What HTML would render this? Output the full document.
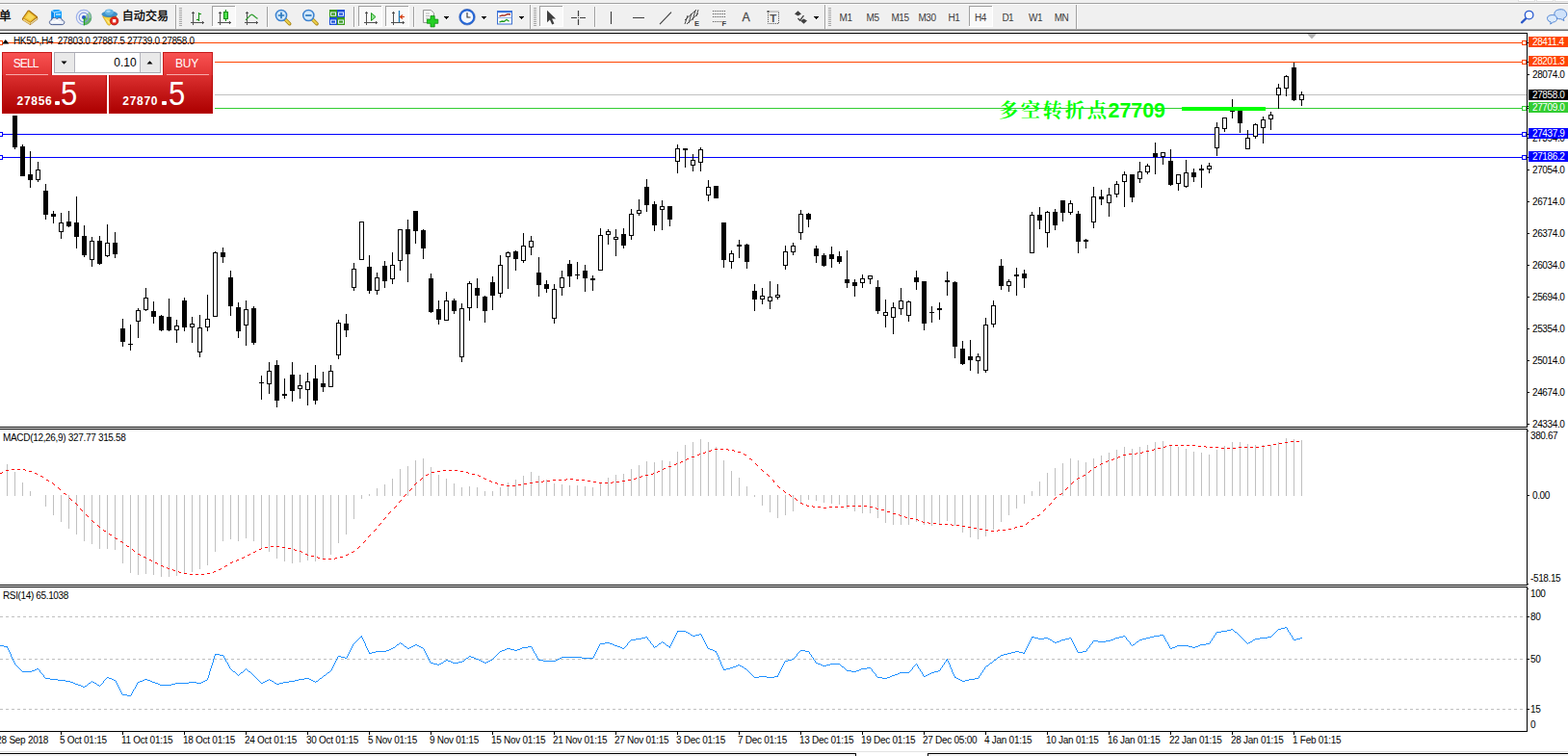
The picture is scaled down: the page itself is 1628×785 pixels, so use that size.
<!DOCTYPE html>
<html><head><meta charset="utf-8"><title>HK50 H4</title>
<style>
html,body{margin:0;padding:0;background:#fff}
body{width:1628px;height:785px;position:relative;overflow:hidden;font-family:"Liberation Sans",sans-serif}
svg{position:absolute;left:0;top:0}
.t{position:absolute;white-space:nowrap;font-family:"Liberation Sans",sans-serif}
.tf{width:40px;text-align:center;font-size:10px;line-height:10px;color:#3c3c3c;letter-spacing:-.5px}
#tp div{position:absolute}
.tab{top:54px;width:52px;height:24px;box-sizing:border-box;border:1px solid #c41a1a;border-bottom:0;background:linear-gradient(#f85252,#e23434)}
.ul{top:77px;width:44px;height:1px;background:#f7a9a9}
.pr{top:78px;height:40px;box-sizing:border-box;border:1px solid #b80808;border-top:0;background:linear-gradient(#dc3030,#c01414 55%,#ad0000)}
.inp{left:56px;top:54px;width:111px;height:22px;box-sizing:border-box;border:1px solid #a9a9b2;background:#fff}
.sb{top:0;width:20px;height:20px;background:#e9e9e9;border-right:1px solid #b4b4bc}
.big{top:79.300px;font-size:34.900px;line-height:35px;color:#fff;transform:scaleX(.89);transform-origin:0 0}
.dot{top:105.300px;width:5px;height:4px;background:#fff;border-radius:1px}
</style></head><body>
<svg width="1628" height="785" viewBox="0 0 1628 785" shape-rendering="crispEdges">
<rect x="0" y="0" width="1628" height="30" fill="#f0f0f0"/>
<rect x="0" y="3" width="1628" height="1" fill="#a0a0a0"/>
<rect x="0" y="4" width="1628" height="1" fill="#fdfdfd"/>
<rect x="0" y="30" width="1628" height="1" fill="#a8a8a8"/>
<rect x="0" y="31" width="1628" height="1" fill="#696969"/>
<rect x="0" y="32" width="1628" height="2" fill="#fff"/>
<rect x="1576" y="0" width="18" height="2" fill="#dedede"/>
<rect x="1577" y="0" width="16" height="1" fill="#fff"/>
<rect x="1595" y="0" width="18" height="2" fill="#dedede"/>
<rect x="1596" y="0" width="16" height="1" fill="#fff"/>
<rect x="1614" y="0" width="15" height="2" fill="#dedede"/>
<rect x="1615" y="0" width="13" height="1" fill="#fff"/>
<rect x="182" y="5" width="1" height="25" fill="#a0a0a0"/>
<rect x="183" y="5" width="1" height="25" fill="#fbfbfb"/>
<rect x="186" y="8" width="3" height="1" fill="#a6a6a6"/>
<rect x="186" y="10" width="3" height="1" fill="#a6a6a6"/>
<rect x="186" y="12" width="3" height="1" fill="#a6a6a6"/>
<rect x="186" y="14" width="3" height="1" fill="#a6a6a6"/>
<rect x="186" y="16" width="3" height="1" fill="#a6a6a6"/>
<rect x="186" y="18" width="3" height="1" fill="#a6a6a6"/>
<rect x="186" y="20" width="3" height="1" fill="#a6a6a6"/>
<rect x="186" y="22" width="3" height="1" fill="#a6a6a6"/>
<rect x="186" y="24" width="3" height="1" fill="#a6a6a6"/>
<rect x="186" y="26" width="3" height="1" fill="#a6a6a6"/>
<rect x="277" y="7" width="1" height="21" fill="#a0a0a0"/>
<rect x="278" y="7" width="1" height="21" fill="#fbfbfb"/>
<rect x="367" y="7" width="1" height="21" fill="#a0a0a0"/>
<rect x="368" y="7" width="1" height="21" fill="#fbfbfb"/>
<rect x="429" y="7" width="1" height="21" fill="#a0a0a0"/>
<rect x="430" y="7" width="1" height="21" fill="#fbfbfb"/>
<rect x="550" y="5" width="1" height="25" fill="#a0a0a0"/>
<rect x="551" y="5" width="1" height="25" fill="#fbfbfb"/>
<rect x="554" y="8" width="3" height="1" fill="#a6a6a6"/>
<rect x="554" y="10" width="3" height="1" fill="#a6a6a6"/>
<rect x="554" y="12" width="3" height="1" fill="#a6a6a6"/>
<rect x="554" y="14" width="3" height="1" fill="#a6a6a6"/>
<rect x="554" y="16" width="3" height="1" fill="#a6a6a6"/>
<rect x="554" y="18" width="3" height="1" fill="#a6a6a6"/>
<rect x="554" y="20" width="3" height="1" fill="#a6a6a6"/>
<rect x="554" y="22" width="3" height="1" fill="#a6a6a6"/>
<rect x="554" y="24" width="3" height="1" fill="#a6a6a6"/>
<rect x="554" y="26" width="3" height="1" fill="#a6a6a6"/>
<rect x="617" y="7" width="1" height="21" fill="#a0a0a0"/>
<rect x="618" y="7" width="1" height="21" fill="#fbfbfb"/>
<rect x="856" y="5" width="1" height="25" fill="#a0a0a0"/>
<rect x="857" y="5" width="1" height="25" fill="#fbfbfb"/>
<rect x="860" y="8" width="3" height="1" fill="#a6a6a6"/>
<rect x="860" y="10" width="3" height="1" fill="#a6a6a6"/>
<rect x="860" y="12" width="3" height="1" fill="#a6a6a6"/>
<rect x="860" y="14" width="3" height="1" fill="#a6a6a6"/>
<rect x="860" y="16" width="3" height="1" fill="#a6a6a6"/>
<rect x="860" y="18" width="3" height="1" fill="#a6a6a6"/>
<rect x="860" y="20" width="3" height="1" fill="#a6a6a6"/>
<rect x="860" y="22" width="3" height="1" fill="#a6a6a6"/>
<rect x="860" y="24" width="3" height="1" fill="#a6a6a6"/>
<rect x="860" y="26" width="3" height="1" fill="#a6a6a6"/>
<rect x="1117" y="5" width="1" height="25" fill="#a0a0a0"/>
<rect x="1118" y="5" width="1" height="25" fill="#fbfbfb"/>
<rect x="220" y="6" width="25" height="22" fill="#f9f9f9"/>
<rect x="220" y="6" width="25" height="1" fill="#a0a0a0"/>
<rect x="220" y="6" width="1" height="22" fill="#a0a0a0"/>
<rect x="220" y="27" width="25" height="1" fill="#fff"/>
<rect x="244" y="6" width="1" height="22" fill="#fff"/>
<rect x="372" y="6" width="25" height="22" fill="#f9f9f9"/>
<rect x="372" y="6" width="25" height="1" fill="#a0a0a0"/>
<rect x="372" y="6" width="1" height="22" fill="#a0a0a0"/>
<rect x="372" y="27" width="25" height="1" fill="#fff"/>
<rect x="396" y="6" width="1" height="22" fill="#fff"/>
<rect x="400" y="6" width="25" height="22" fill="#f9f9f9"/>
<rect x="400" y="6" width="25" height="1" fill="#a0a0a0"/>
<rect x="400" y="6" width="1" height="22" fill="#a0a0a0"/>
<rect x="400" y="27" width="25" height="1" fill="#fff"/>
<rect x="424" y="6" width="1" height="22" fill="#fff"/>
<rect x="560" y="6" width="25" height="22" fill="#f9f9f9"/>
<rect x="560" y="6" width="25" height="1" fill="#a0a0a0"/>
<rect x="560" y="6" width="1" height="22" fill="#a0a0a0"/>
<rect x="560" y="27" width="25" height="1" fill="#fff"/>
<rect x="584" y="6" width="1" height="22" fill="#fff"/>
<rect x="1006" y="6" width="25" height="22" fill="#f9f9f9"/>
<rect x="1006" y="6" width="25" height="1" fill="#a0a0a0"/>
<rect x="1006" y="6" width="1" height="22" fill="#a0a0a0"/>
<rect x="1006" y="27" width="25" height="1" fill="#fff"/>
<rect x="1030" y="6" width="1" height="22" fill="#fff"/>
<rect x="200" y="12" width="1" height="14" fill="#505050"/>
<rect x="199" y="13" width="3" height="1" fill="#505050"/>
<rect x="198" y="23" width="14" height="1" fill="#505050"/>
<rect x="210" y="22" width="1" height="3" fill="#505050"/>
<rect x="206" y="13" width="1" height="9" fill="#0f8f0f"/>
<rect x="207" y="14" width="2" height="1" fill="#0f8f0f"/>
<rect x="204" y="20" width="2" height="1" fill="#0f8f0f"/>
<rect x="228" y="12" width="1" height="14" fill="#505050"/>
<rect x="227" y="13" width="3" height="1" fill="#505050"/>
<rect x="226" y="23" width="14" height="1" fill="#505050"/>
<rect x="238" y="22" width="1" height="3" fill="#505050"/>
<rect x="234" y="10" width="1" height="12" fill="#0f8f0f"/>
<rect x="232" y="12" width="5" height="8" fill="#0f8f0f"/>
<rect x="233" y="13" width="3" height="6" fill="#4fe04f"/>
<rect x="256" y="12" width="1" height="14" fill="#505050"/>
<rect x="255" y="13" width="3" height="1" fill="#505050"/>
<rect x="254" y="23" width="14" height="1" fill="#505050"/>
<rect x="266" y="22" width="1" height="3" fill="#505050"/>
<rect x="380" y="12" width="1" height="14" fill="#505050"/>
<rect x="379" y="13" width="3" height="1" fill="#505050"/>
<rect x="378" y="23" width="14" height="1" fill="#505050"/>
<rect x="390" y="22" width="1" height="3" fill="#505050"/>
<rect x="408" y="12" width="1" height="14" fill="#505050"/>
<rect x="407" y="13" width="3" height="1" fill="#505050"/>
<rect x="406" y="23" width="14" height="1" fill="#505050"/>
<rect x="418" y="22" width="1" height="3" fill="#505050"/>
<path d="M461 17h5l-2.500 3z" fill="#000"/>
<path d="M500 17h5l-2.500 3z" fill="#000"/>
<path d="M539 17h5l-2.500 3z" fill="#000"/>
<path d="M845 17h5l-2.500 3z" fill="#000"/>
<g shape-rendering="geometricPrecision"><title>新订单 自动交易</title><text x="-1" y="20.87" font-size="12.5" fill="#000" stroke="#000" stroke-width="0.3" style="font-family:'Liberation Sans','Noto Sans CJK SC',sans-serif">单</text>
<text x="126.8 138.85 150.9 162.95" y="21.3" font-size="12" fill="#000" stroke="#000" stroke-width="0.3" style="font-family:'Liberation Sans','Noto Sans CJK SC',sans-serif">自动交易</text>
<path d="M28.800 10.700l1.600-.200 8.600 6.700.300 2.700-7.900 6.200-8.400-5.300-.100-1.500z" fill="#a9700f"/><path d="M29.600 11.600l8 6.100-6.200 5.300-7-4.200z" fill="#f0c030"/><path d="M30 13.200l5.800 4.500-4.300 3.600-5-3z" fill="#f7d85c"/><path d="M24 20l7.300 4.500" stroke="#f2d27a" stroke-width="1.500" fill="none"/><path d="M31.600 24.600l6.900-5.400" stroke="#e9dca8" stroke-width="1.300" fill="none"/>
<path d="M53.300 11.200l3.200-1.200h4.500l3 1.500v9.500h-10.700z" fill="#14a0ff"/><path d="M53.300 11.200l3.200 1.600v8.200h-3.200z" fill="#0b86ea"/><path d="M56.500 12.800v8M53.500 11.300l3 1.500 7.300-1.200" stroke="#d9f0ff" stroke-width=".8" fill="none"/><path d="M58 15h5" stroke="#eaf6ff" stroke-width="1.200"/><path d="M54.200 25.600c-3.600 0-3.800-4.300-.700-4.800.300-2.700 4.300-3.400 5.700-1.100 1.400-2.100 5.300-1.300 5.200 1.300 3.300.100 3.300 4.600-.200 4.600z" fill="#e3e9f3" stroke="#4c5f92" stroke-width="1"/><path d="M53.500 22.300c.800-1.500 2.500-1 3-.2 1-2.200 4.200-2.200 5 .2 1.600-.6 3 .3 3 1.400h-11.600z" fill="#fff" opacity=".85"/>
<circle cx="87" cy="18" r="7.700" fill="#f1f3f8" stroke="#9db1ea" stroke-width="1.200"/><path d="M87 18V26.200A8.200 8.200 0 0 0 92.800 12.200z" fill="#5fb45f" opacity=".6"/><path d="M87 18V26.200A8.200 8.200 0 0 0 95 19z" fill="#3fa53f" opacity=".55"/><circle cx="87" cy="18" r="4.900" fill="none" stroke="#7f97de" stroke-width="1.100"/><circle cx="87" cy="18" r="2" fill="#2653cc"/><path d="M87.400 18.500v7.800" stroke="#1fa01f" stroke-width="1.300"/>
<path d="M106.600 16.800h14.400l-2.800 5.500-4.600 3.900-1.800-.600z" fill="#f6d23e" stroke="#c99a14" stroke-width=".7"/><path d="M109 18.500l4 6 2-1z" fill="#fbe98a"/><ellipse cx="113.800" cy="14.800" rx="8" ry="2.900" fill="#3d93cc" stroke="#2a77ae" stroke-width=".6"/><ellipse cx="113.300" cy="12.600" rx="4.600" ry="3.100" fill="#62b2e2"/><ellipse cx="112.500" cy="11.800" rx="2.300" ry="1.300" fill="#a4d6f3"/><circle cx="118.600" cy="21.700" r="4.300" fill="#e2251a" stroke="#a8140c" stroke-width=".7"/><rect x="116.900" y="20" width="3.400" height="3.400" fill="#fff"/>
<path d="M255 20.800c3-1.800 4.500-5.600 6.300-5.600s3.500 3 6.200 4.200" stroke="#2c9c2c" stroke-width="1.200" fill="none"/>
<path d="M296 20l4.700 4.700" stroke="#a88414" stroke-width="3.600" stroke-linecap="round"/><path d="M296 20l4.500 4.500" stroke="#ecd04c" stroke-width="2" stroke-linecap="round"/><circle cx="292" cy="16" r="5.600" fill="#d3e9fb" stroke="#3b82d0" stroke-width="1.500"/><path d="M288.8 16h6.400M292 12.800v6.400" stroke="#2d79bd" stroke-width="1.700"/>
<path d="M324.3 20l4.700 4.700" stroke="#a88414" stroke-width="3.600" stroke-linecap="round"/><path d="M324.3 20l4.500 4.500" stroke="#ecd04c" stroke-width="2" stroke-linecap="round"/><circle cx="320.3" cy="16" r="5.600" fill="#d3e9fb" stroke="#3b82d0" stroke-width="1.500"/><path d="M317.1 16h6.400" stroke="#2d79bd" stroke-width="1.700"/>
<rect x="342" y="10" width="8" height="8" fill="#3b9b1c"/><rect x="343.500" y="13" width="5" height="3.200" fill="none" stroke="#e8f4ff" stroke-width="1"/>
<rect x="350" y="10" width="8" height="8" fill="#1d4fd8"/><rect x="351.500" y="13" width="5" height="3.200" fill="none" stroke="#e8f4ff" stroke-width="1"/>
<rect x="342" y="18" width="8" height="8" fill="#1d4fd8"/><rect x="343.500" y="21" width="5" height="3.200" fill="none" stroke="#e8f4ff" stroke-width="1"/>
<rect x="350" y="18" width="8" height="8" fill="#3b9b1c"/><rect x="351.500" y="21" width="5" height="3.200" fill="none" stroke="#e8f4ff" stroke-width="1"/>
<path d="M385.500 13.500l4.500 4-4.500 4z" fill="#8fe48f" stroke="#1d9c1d" stroke-width="1"/>
<path d="M414.500 11v12" stroke="#1878b8" stroke-width="1.300"/><path d="M420 17.500h-4M418 15.500l-2.500 2 2.500 2" stroke="#d43c10" stroke-width="1.200" fill="none"/>
<path d="M439.500 10.500h8l3 3v10h-11z" fill="#fbfbfb" stroke="#8c8c8c" stroke-width=".9"/><path d="M442 14h4M442 16.500h4M442 19h3" stroke="#a5a5a5" stroke-width=".8"/><path d="M447 16.500h4.200v3.600h3.600v4.200h-3.600v3.600h-4.200v-3.600h-3.600v-4.200h3.600z" fill="#25d025" stroke="#0f8a0f" stroke-width=".8"/>
<circle cx="485" cy="17.700" r="7.200" fill="#f4f8ff" stroke="#2467d8" stroke-width="1.900"/><circle cx="485" cy="17.700" r="8.300" fill="none" stroke="#0e3c9e" stroke-width=".5"/><path d="M485 13v5h3.500" stroke="#333" stroke-width="1.100" fill="none"/>
<rect x="516.500" y="11.500" width="15" height="13.500" fill="#fff" stroke="#3c6fd0" stroke-width="1"/><rect x="516" y="11" width="16" height="2.200" fill="#3c74dc"/><path d="M516.500 18.500h15" stroke="#7a9ce0" stroke-width=".8"/><path d="M518.500 16.800l3-1 2.500.3 3-1.500 3 .4" stroke="#a02014" stroke-width="1.300" fill="none"/><path d="M518.500 22.800l3-.8 2 .3 2.500-2 2.500 2" stroke="#1d9a1d" stroke-width="1.300" fill="none"/>
<path d="M568 10.800v12.400l2.900-2.700 2.300 5 2.200-1-2.300-4.900h4z" fill="#404040"/>
<path d="M593 18.500h6M602 18.500h6M600.500 11v6M600.500 20v6" stroke="#404040" stroke-width="1.200"/><rect x="600" y="18" width="1" height="1" fill="#404040"/>
<path d="M634.500 12v13M657 18.500h12M685 25.200L697 12.600" stroke="#404040" stroke-width="1.150"/>
<path d="M711 21l12-11M713 25l12-11M711 25l3-9M715 24l3-10M719 21l3-10M723 17l2-7" stroke="#484848" stroke-width="1" fill="none"/>
<path d="M740 11.500h13.500" stroke="#505050" stroke-width="1" stroke-dasharray="1 1"/>
<path d="M740 14.500h13.500" stroke="#505050" stroke-width="1" stroke-dasharray="1 1"/>
<path d="M740 17.500h13.500" stroke="#505050" stroke-width="1" stroke-dasharray="1 1"/>
<path d="M740 22.500h9" stroke="#505050" stroke-width="1" stroke-dasharray="1 1"/>
<rect x="797.500" y="12" width="11" height="12.500" fill="none" stroke="#505050" stroke-width="1" stroke-dasharray="1 1"/><rect x="796.500" y="11" width="2" height="2" fill="#505050"/>
<path d="M825 14.500l3.500-3.200 3.500 3.200-3.500 2zM831 21.500l3.500 3.200 3.500-3.200-3.500-2z" fill="#404040"/><path d="M828.500 19l2 2.200 4-5" stroke="#404040" stroke-width="1.300" fill="none"/>
<path d="M1584.500 19l-4.500 4.300" stroke="#2a57c8" stroke-width="2.300" stroke-linecap="round"/><circle cx="1587.600" cy="15.600" r="4.300" fill="#fafcff" stroke="#2a5bd0" stroke-width="1.300"/>
<path d="M1613.800 14.800a6.400 5 0 1 1 9.500 4.300l.6 2.500-3-1.800a6.400 5 0 0 1-7.100-5z" fill="#cfe2fa" stroke="#4a7fd0" stroke-width=".9"/><path d="M1606.500 19.500a5 3.800 0 1 1 6 3.600l-2.800 2 .5-2.200a5 3.800 0 0 1-3.700-3.400z" fill="#dcebfc" stroke="#4a7fd0" stroke-width=".9"/></g>
<rect x="0" y="34" width="1586" height="1" fill="#000"/>
<rect x="1585" y="34" width="1" height="726" fill="#000"/>
<rect x="0" y="443" width="1586" height="1" fill="#000"/>
<rect x="0" y="445" width="1586" height="1" fill="#000"/>
<rect x="0" y="607" width="1586" height="1" fill="#000"/>
<rect x="0" y="609" width="1586" height="1" fill="#000"/>
<rect x="1586" y="444" width="3" height="1" fill="#fff"/>
<rect x="1586" y="608" width="3" height="1" fill="#fff"/>
<rect x="0" y="759" width="1586" height="1" fill="#000"/>
<rect x="1585" y="444" width="1" height="1" fill="#fff"/>
<rect x="1585" y="608" width="1" height="1" fill="#fff"/>
<rect x="0" y="98" width="1585" height="1" fill="#c0c0c0"/>
<rect x="0" y="44" width="1585" height="1" fill="#ff4500"/>
<rect x="0" y="64" width="1585" height="1" fill="#ff4500"/>
<rect x="0" y="112" width="1585" height="1" fill="#32cd32"/>
<rect x="0" y="139" width="1585" height="1" fill="#0000ff"/>
<rect x="0" y="163" width="1585" height="1" fill="#0000ff"/>
<rect x="15" y="100" width="1" height="55" fill="#000"/>
<rect x="13" y="100" width="5" height="53" fill="#000"/>
<rect x="23" y="150" width="1" height="33" fill="#000"/>
<rect x="21" y="152" width="5" height="31" fill="#000"/>
<rect x="31" y="157" width="1" height="38" fill="#000"/>
<rect x="29" y="181" width="5" height="6" fill="#000"/>
<rect x="39" y="168" width="1" height="21" fill="#000"/>
<rect x="37" y="176" width="5" height="11" fill="#000"/>
<rect x="38" y="177" width="3" height="9" fill="#fff"/>
<rect x="47" y="191" width="1" height="37" fill="#000"/>
<rect x="45" y="198" width="5" height="25" fill="#000"/>
<rect x="55" y="219" width="1" height="13" fill="#000"/>
<rect x="53" y="222" width="5" height="3" fill="#000"/>
<rect x="63" y="221" width="1" height="27" fill="#000"/>
<rect x="61" y="231" width="5" height="10" fill="#000"/>
<rect x="62" y="232" width="3" height="8" fill="#fff"/>
<rect x="71" y="219" width="1" height="17" fill="#000"/>
<rect x="69" y="230" width="5" height="5" fill="#000"/>
<rect x="79" y="204" width="1" height="54" fill="#000"/>
<rect x="77" y="231" width="5" height="15" fill="#000"/>
<rect x="87" y="234" width="1" height="33" fill="#000"/>
<rect x="85" y="245" width="5" height="20" fill="#000"/>
<rect x="95" y="246" width="1" height="31" fill="#000"/>
<rect x="93" y="250" width="5" height="20" fill="#000"/>
<rect x="94" y="251" width="3" height="18" fill="#fff"/>
<rect x="103" y="245" width="1" height="30" fill="#000"/>
<rect x="101" y="250" width="5" height="24" fill="#000"/>
<rect x="111" y="233" width="1" height="34" fill="#000"/>
<rect x="109" y="252" width="5" height="14" fill="#000"/>
<rect x="110" y="253" width="3" height="12" fill="#fff"/>
<rect x="119" y="241" width="1" height="27" fill="#000"/>
<rect x="117" y="252" width="5" height="12" fill="#000"/>
<rect x="127" y="331" width="1" height="29" fill="#000"/>
<rect x="125" y="341" width="5" height="14" fill="#000"/>
<rect x="135" y="337" width="1" height="27" fill="#000"/>
<rect x="133" y="357" width="5" height="1" fill="#000"/>
<rect x="143" y="320" width="1" height="31" fill="#000"/>
<rect x="141" y="322" width="5" height="12" fill="#000"/>
<rect x="142" y="323" width="3" height="10" fill="#fff"/>
<rect x="151" y="299" width="1" height="24" fill="#000"/>
<rect x="149" y="309" width="5" height="13" fill="#000"/>
<rect x="150" y="310" width="3" height="11" fill="#fff"/>
<rect x="159" y="313" width="1" height="23" fill="#000"/>
<rect x="157" y="323" width="5" height="6" fill="#000"/>
<rect x="167" y="327" width="1" height="17" fill="#000"/>
<rect x="165" y="328" width="5" height="15" fill="#000"/>
<rect x="175" y="310" width="1" height="34" fill="#000"/>
<rect x="173" y="329" width="5" height="14" fill="#000"/>
<rect x="183" y="332" width="1" height="24" fill="#000"/>
<rect x="181" y="338" width="5" height="5" fill="#000"/>
<rect x="182" y="339" width="3" height="3" fill="#fff"/>
<rect x="191" y="309" width="1" height="35" fill="#000"/>
<rect x="189" y="312" width="5" height="28" fill="#000"/>
<rect x="199" y="329" width="1" height="27" fill="#000"/>
<rect x="197" y="336" width="5" height="4" fill="#000"/>
<rect x="198" y="337" width="3" height="2" fill="#fff"/>
<rect x="207" y="327" width="1" height="44" fill="#000"/>
<rect x="205" y="340" width="5" height="26" fill="#000"/>
<rect x="206" y="341" width="3" height="24" fill="#fff"/>
<rect x="215" y="306" width="1" height="38" fill="#000"/>
<rect x="213" y="331" width="5" height="9" fill="#000"/>
<rect x="214" y="332" width="3" height="7" fill="#fff"/>
<rect x="223" y="261" width="1" height="68" fill="#000"/>
<rect x="221" y="262" width="5" height="67" fill="#000"/>
<rect x="222" y="263" width="3" height="65" fill="#fff"/>
<rect x="231" y="257" width="1" height="16" fill="#000"/>
<rect x="229" y="262" width="5" height="5" fill="#000"/>
<rect x="239" y="281" width="1" height="47" fill="#000"/>
<rect x="237" y="288" width="5" height="30" fill="#000"/>
<rect x="247" y="314" width="1" height="37" fill="#000"/>
<rect x="245" y="319" width="5" height="25" fill="#000"/>
<rect x="255" y="312" width="1" height="47" fill="#000"/>
<rect x="253" y="321" width="5" height="17" fill="#000"/>
<rect x="254" y="322" width="3" height="15" fill="#fff"/>
<rect x="263" y="318" width="1" height="40" fill="#000"/>
<rect x="261" y="320" width="5" height="36" fill="#000"/>
<rect x="271" y="390" width="1" height="25" fill="#000"/>
<rect x="269" y="397" width="5" height="1" fill="#000"/>
<rect x="279" y="376" width="1" height="33" fill="#000"/>
<rect x="277" y="385" width="5" height="14" fill="#000"/>
<rect x="278" y="386" width="3" height="12" fill="#fff"/>
<rect x="287" y="374" width="1" height="49" fill="#000"/>
<rect x="285" y="379" width="5" height="37" fill="#000"/>
<rect x="295" y="393" width="1" height="21" fill="#000"/>
<rect x="293" y="409" width="5" height="2" fill="#000"/>
<rect x="303" y="376" width="1" height="41" fill="#000"/>
<rect x="301" y="389" width="5" height="17" fill="#000"/>
<rect x="311" y="389" width="1" height="25" fill="#000"/>
<rect x="309" y="400" width="5" height="4" fill="#000"/>
<rect x="310" y="401" width="3" height="2" fill="#fff"/>
<rect x="319" y="387" width="1" height="34" fill="#000"/>
<rect x="317" y="396" width="5" height="9" fill="#000"/>
<rect x="318" y="397" width="3" height="7" fill="#fff"/>
<rect x="327" y="379" width="1" height="41" fill="#000"/>
<rect x="325" y="393" width="5" height="23" fill="#000"/>
<rect x="335" y="386" width="1" height="21" fill="#000"/>
<rect x="333" y="398" width="5" height="4" fill="#000"/>
<rect x="343" y="379" width="1" height="23" fill="#000"/>
<rect x="341" y="385" width="5" height="17" fill="#000"/>
<rect x="342" y="386" width="3" height="15" fill="#fff"/>
<rect x="351" y="332" width="1" height="41" fill="#000"/>
<rect x="349" y="335" width="5" height="34" fill="#000"/>
<rect x="350" y="336" width="3" height="32" fill="#fff"/>
<rect x="359" y="326" width="1" height="24" fill="#000"/>
<rect x="357" y="336" width="5" height="7" fill="#000"/>
<rect x="367" y="273" width="1" height="29" fill="#000"/>
<rect x="365" y="279" width="5" height="20" fill="#000"/>
<rect x="366" y="280" width="3" height="18" fill="#fff"/>
<rect x="375" y="230" width="1" height="40" fill="#000"/>
<rect x="373" y="230" width="5" height="40" fill="#000"/>
<rect x="374" y="231" width="3" height="38" fill="#fff"/>
<rect x="383" y="265" width="1" height="40" fill="#000"/>
<rect x="381" y="277" width="5" height="25" fill="#000"/>
<rect x="391" y="283" width="1" height="23" fill="#000"/>
<rect x="389" y="288" width="5" height="14" fill="#000"/>
<rect x="390" y="289" width="3" height="12" fill="#fff"/>
<rect x="399" y="271" width="1" height="28" fill="#000"/>
<rect x="397" y="276" width="5" height="16" fill="#000"/>
<rect x="407" y="262" width="1" height="33" fill="#000"/>
<rect x="405" y="275" width="5" height="15" fill="#000"/>
<rect x="406" y="276" width="3" height="13" fill="#fff"/>
<rect x="415" y="238" width="1" height="43" fill="#000"/>
<rect x="413" y="238" width="5" height="33" fill="#000"/>
<rect x="414" y="239" width="3" height="31" fill="#fff"/>
<rect x="423" y="228" width="1" height="65" fill="#000"/>
<rect x="421" y="238" width="5" height="26" fill="#000"/>
<rect x="431" y="219" width="1" height="34" fill="#000"/>
<rect x="429" y="219" width="5" height="21" fill="#000"/>
<rect x="439" y="238" width="1" height="31" fill="#000"/>
<rect x="437" y="239" width="5" height="19" fill="#000"/>
<rect x="447" y="284" width="1" height="41" fill="#000"/>
<rect x="445" y="289" width="5" height="35" fill="#000"/>
<rect x="455" y="312" width="1" height="25" fill="#000"/>
<rect x="453" y="321" width="5" height="11" fill="#000"/>
<rect x="463" y="303" width="1" height="30" fill="#000"/>
<rect x="461" y="312" width="5" height="21" fill="#000"/>
<rect x="462" y="313" width="3" height="19" fill="#fff"/>
<rect x="471" y="310" width="1" height="16" fill="#000"/>
<rect x="469" y="312" width="5" height="11" fill="#000"/>
<rect x="479" y="315" width="1" height="61" fill="#000"/>
<rect x="477" y="320" width="5" height="51" fill="#000"/>
<rect x="478" y="321" width="3" height="49" fill="#fff"/>
<rect x="487" y="292" width="1" height="41" fill="#000"/>
<rect x="485" y="294" width="5" height="26" fill="#000"/>
<rect x="486" y="295" width="3" height="24" fill="#fff"/>
<rect x="495" y="289" width="1" height="31" fill="#000"/>
<rect x="493" y="299" width="5" height="8" fill="#000"/>
<rect x="503" y="307" width="1" height="28" fill="#000"/>
<rect x="501" y="308" width="5" height="15" fill="#000"/>
<rect x="511" y="287" width="1" height="35" fill="#000"/>
<rect x="509" y="293" width="5" height="14" fill="#000"/>
<rect x="519" y="265" width="1" height="44" fill="#000"/>
<rect x="517" y="275" width="5" height="30" fill="#000"/>
<rect x="518" y="276" width="3" height="28" fill="#fff"/>
<rect x="527" y="261" width="1" height="39" fill="#000"/>
<rect x="525" y="262" width="5" height="5" fill="#000"/>
<rect x="526" y="263" width="3" height="3" fill="#fff"/>
<rect x="535" y="260" width="1" height="21" fill="#000"/>
<rect x="533" y="261" width="5" height="8" fill="#000"/>
<rect x="543" y="242" width="1" height="31" fill="#000"/>
<rect x="541" y="255" width="5" height="16" fill="#000"/>
<rect x="542" y="256" width="3" height="14" fill="#fff"/>
<rect x="551" y="245" width="1" height="20" fill="#000"/>
<rect x="549" y="250" width="5" height="7" fill="#000"/>
<rect x="550" y="251" width="3" height="5" fill="#fff"/>
<rect x="559" y="267" width="1" height="41" fill="#000"/>
<rect x="557" y="283" width="5" height="13" fill="#000"/>
<rect x="567" y="291" width="1" height="13" fill="#000"/>
<rect x="565" y="295" width="5" height="5" fill="#000"/>
<rect x="575" y="295" width="1" height="41" fill="#000"/>
<rect x="573" y="300" width="5" height="31" fill="#000"/>
<rect x="574" y="301" width="3" height="29" fill="#fff"/>
<rect x="583" y="281" width="1" height="26" fill="#000"/>
<rect x="581" y="288" width="5" height="11" fill="#000"/>
<rect x="582" y="289" width="3" height="9" fill="#fff"/>
<rect x="591" y="270" width="1" height="28" fill="#000"/>
<rect x="589" y="274" width="5" height="13" fill="#000"/>
<rect x="599" y="272" width="1" height="18" fill="#000"/>
<rect x="597" y="285" width="5" height="1" fill="#000"/>
<rect x="607" y="275" width="1" height="28" fill="#000"/>
<rect x="605" y="281" width="5" height="8" fill="#000"/>
<rect x="615" y="286" width="1" height="16" fill="#000"/>
<rect x="613" y="289" width="5" height="2" fill="#000"/>
<rect x="623" y="237" width="1" height="44" fill="#000"/>
<rect x="621" y="244" width="5" height="37" fill="#000"/>
<rect x="622" y="245" width="3" height="35" fill="#fff"/>
<rect x="631" y="238" width="1" height="16" fill="#000"/>
<rect x="629" y="240" width="5" height="4" fill="#000"/>
<rect x="630" y="241" width="3" height="2" fill="#fff"/>
<rect x="639" y="238" width="1" height="28" fill="#000"/>
<rect x="637" y="246" width="5" height="3" fill="#000"/>
<rect x="638" y="247" width="3" height="1" fill="#fff"/>
<rect x="647" y="237" width="1" height="21" fill="#000"/>
<rect x="645" y="243" width="5" height="12" fill="#000"/>
<rect x="655" y="217" width="1" height="32" fill="#000"/>
<rect x="653" y="222" width="5" height="23" fill="#000"/>
<rect x="654" y="223" width="3" height="21" fill="#fff"/>
<rect x="663" y="207" width="1" height="17" fill="#000"/>
<rect x="661" y="218" width="5" height="4" fill="#000"/>
<rect x="662" y="219" width="3" height="2" fill="#fff"/>
<rect x="671" y="186" width="1" height="34" fill="#000"/>
<rect x="669" y="194" width="5" height="19" fill="#000"/>
<rect x="679" y="209" width="1" height="31" fill="#000"/>
<rect x="677" y="212" width="5" height="22" fill="#000"/>
<rect x="687" y="208" width="1" height="31" fill="#000"/>
<rect x="685" y="214" width="5" height="4" fill="#000"/>
<rect x="686" y="215" width="3" height="2" fill="#fff"/>
<rect x="695" y="214" width="1" height="21" fill="#000"/>
<rect x="693" y="214" width="5" height="14" fill="#000"/>
<rect x="703" y="150" width="1" height="30" fill="#000"/>
<rect x="701" y="154" width="5" height="14" fill="#000"/>
<rect x="702" y="155" width="3" height="12" fill="#fff"/>
<rect x="711" y="154" width="1" height="20" fill="#000"/>
<rect x="709" y="154" width="5" height="2" fill="#000"/>
<rect x="719" y="160" width="1" height="18" fill="#000"/>
<rect x="717" y="166" width="5" height="6" fill="#000"/>
<rect x="718" y="167" width="3" height="4" fill="#fff"/>
<rect x="727" y="153" width="1" height="25" fill="#000"/>
<rect x="725" y="155" width="5" height="14" fill="#000"/>
<rect x="726" y="156" width="3" height="12" fill="#fff"/>
<rect x="735" y="187" width="1" height="22" fill="#000"/>
<rect x="733" y="194" width="5" height="9" fill="#000"/>
<rect x="734" y="195" width="3" height="7" fill="#fff"/>
<rect x="743" y="193" width="1" height="13" fill="#000"/>
<rect x="741" y="193" width="5" height="13" fill="#000"/>
<rect x="751" y="231" width="1" height="47" fill="#000"/>
<rect x="749" y="231" width="5" height="39" fill="#000"/>
<rect x="759" y="260" width="1" height="19" fill="#000"/>
<rect x="757" y="263" width="5" height="9" fill="#000"/>
<rect x="758" y="264" width="3" height="7" fill="#fff"/>
<rect x="767" y="249" width="1" height="19" fill="#000"/>
<rect x="765" y="254" width="5" height="2" fill="#000"/>
<rect x="775" y="253" width="1" height="26" fill="#000"/>
<rect x="773" y="254" width="5" height="18" fill="#000"/>
<rect x="783" y="295" width="1" height="28" fill="#000"/>
<rect x="781" y="302" width="5" height="9" fill="#000"/>
<rect x="791" y="299" width="1" height="17" fill="#000"/>
<rect x="789" y="307" width="5" height="4" fill="#000"/>
<rect x="790" y="308" width="3" height="2" fill="#fff"/>
<rect x="799" y="292" width="1" height="29" fill="#000"/>
<rect x="797" y="308" width="5" height="5" fill="#000"/>
<rect x="798" y="309" width="3" height="3" fill="#fff"/>
<rect x="807" y="295" width="1" height="16" fill="#000"/>
<rect x="805" y="306" width="5" height="3" fill="#000"/>
<rect x="806" y="307" width="3" height="1" fill="#fff"/>
<rect x="815" y="255" width="1" height="25" fill="#000"/>
<rect x="813" y="261" width="5" height="15" fill="#000"/>
<rect x="814" y="262" width="3" height="13" fill="#fff"/>
<rect x="823" y="252" width="1" height="13" fill="#000"/>
<rect x="821" y="255" width="5" height="7" fill="#000"/>
<rect x="822" y="256" width="3" height="5" fill="#fff"/>
<rect x="831" y="218" width="1" height="31" fill="#000"/>
<rect x="829" y="222" width="5" height="20" fill="#000"/>
<rect x="830" y="223" width="3" height="18" fill="#fff"/>
<rect x="839" y="221" width="1" height="15" fill="#000"/>
<rect x="837" y="222" width="5" height="6" fill="#000"/>
<rect x="847" y="255" width="1" height="18" fill="#000"/>
<rect x="845" y="258" width="5" height="8" fill="#000"/>
<rect x="855" y="263" width="1" height="14" fill="#000"/>
<rect x="853" y="265" width="5" height="11" fill="#000"/>
<rect x="863" y="256" width="1" height="22" fill="#000"/>
<rect x="861" y="264" width="5" height="5" fill="#000"/>
<rect x="871" y="261" width="1" height="13" fill="#000"/>
<rect x="869" y="266" width="5" height="6" fill="#000"/>
<rect x="879" y="260" width="1" height="39" fill="#000"/>
<rect x="877" y="290" width="5" height="4" fill="#000"/>
<rect x="887" y="290" width="1" height="18" fill="#000"/>
<rect x="885" y="293" width="5" height="4" fill="#000"/>
<rect x="895" y="285" width="1" height="14" fill="#000"/>
<rect x="893" y="289" width="5" height="5" fill="#000"/>
<rect x="894" y="290" width="3" height="3" fill="#fff"/>
<rect x="903" y="286" width="1" height="9" fill="#000"/>
<rect x="901" y="286" width="5" height="4" fill="#000"/>
<rect x="902" y="287" width="3" height="2" fill="#fff"/>
<rect x="911" y="291" width="1" height="35" fill="#000"/>
<rect x="909" y="298" width="5" height="25" fill="#000"/>
<rect x="919" y="311" width="1" height="29" fill="#000"/>
<rect x="917" y="324" width="5" height="4" fill="#000"/>
<rect x="918" y="325" width="3" height="2" fill="#fff"/>
<rect x="927" y="314" width="1" height="33" fill="#000"/>
<rect x="925" y="319" width="5" height="11" fill="#000"/>
<rect x="926" y="320" width="3" height="9" fill="#fff"/>
<rect x="935" y="299" width="1" height="28" fill="#000"/>
<rect x="933" y="312" width="5" height="9" fill="#000"/>
<rect x="934" y="313" width="3" height="7" fill="#fff"/>
<rect x="943" y="312" width="1" height="22" fill="#000"/>
<rect x="941" y="313" width="5" height="15" fill="#000"/>
<rect x="942" y="314" width="3" height="13" fill="#fff"/>
<rect x="951" y="281" width="1" height="20" fill="#000"/>
<rect x="949" y="288" width="5" height="5" fill="#000"/>
<rect x="959" y="292" width="1" height="51" fill="#000"/>
<rect x="957" y="292" width="5" height="44" fill="#000"/>
<rect x="967" y="318" width="1" height="17" fill="#000"/>
<rect x="965" y="324" width="5" height="1" fill="#000"/>
<rect x="975" y="314" width="1" height="18" fill="#000"/>
<rect x="973" y="320" width="5" height="2" fill="#000"/>
<rect x="983" y="282" width="1" height="25" fill="#000"/>
<rect x="981" y="291" width="5" height="2" fill="#000"/>
<rect x="991" y="292" width="1" height="80" fill="#000"/>
<rect x="989" y="293" width="5" height="67" fill="#000"/>
<rect x="999" y="354" width="1" height="25" fill="#000"/>
<rect x="997" y="362" width="5" height="16" fill="#000"/>
<rect x="1007" y="353" width="1" height="32" fill="#000"/>
<rect x="1005" y="370" width="5" height="4" fill="#000"/>
<rect x="1015" y="367" width="1" height="21" fill="#000"/>
<rect x="1013" y="370" width="5" height="5" fill="#000"/>
<rect x="1014" y="371" width="3" height="3" fill="#fff"/>
<rect x="1023" y="330" width="1" height="57" fill="#000"/>
<rect x="1021" y="337" width="5" height="48" fill="#000"/>
<rect x="1022" y="338" width="3" height="46" fill="#fff"/>
<rect x="1031" y="312" width="1" height="28" fill="#000"/>
<rect x="1029" y="317" width="5" height="20" fill="#000"/>
<rect x="1030" y="318" width="3" height="18" fill="#fff"/>
<rect x="1039" y="269" width="1" height="32" fill="#000"/>
<rect x="1037" y="276" width="5" height="21" fill="#000"/>
<rect x="1047" y="290" width="1" height="13" fill="#000"/>
<rect x="1045" y="292" width="5" height="5" fill="#000"/>
<rect x="1046" y="293" width="3" height="3" fill="#fff"/>
<rect x="1055" y="278" width="1" height="29" fill="#000"/>
<rect x="1053" y="285" width="5" height="2" fill="#000"/>
<rect x="1063" y="280" width="1" height="19" fill="#000"/>
<rect x="1061" y="284" width="5" height="5" fill="#000"/>
<rect x="1071" y="220" width="1" height="43" fill="#000"/>
<rect x="1069" y="223" width="5" height="40" fill="#000"/>
<rect x="1070" y="224" width="3" height="38" fill="#fff"/>
<rect x="1079" y="215" width="1" height="23" fill="#000"/>
<rect x="1077" y="223" width="5" height="6" fill="#000"/>
<rect x="1087" y="219" width="1" height="38" fill="#000"/>
<rect x="1085" y="220" width="5" height="22" fill="#000"/>
<rect x="1086" y="221" width="3" height="20" fill="#fff"/>
<rect x="1095" y="217" width="1" height="22" fill="#000"/>
<rect x="1093" y="220" width="5" height="14" fill="#000"/>
<rect x="1103" y="208" width="1" height="22" fill="#000"/>
<rect x="1101" y="208" width="5" height="13" fill="#000"/>
<rect x="1111" y="208" width="1" height="15" fill="#000"/>
<rect x="1109" y="211" width="5" height="10" fill="#000"/>
<rect x="1110" y="212" width="3" height="8" fill="#fff"/>
<rect x="1119" y="219" width="1" height="44" fill="#000"/>
<rect x="1117" y="222" width="5" height="29" fill="#000"/>
<rect x="1127" y="248" width="1" height="10" fill="#000"/>
<rect x="1125" y="249" width="5" height="2" fill="#000"/>
<rect x="1135" y="194" width="1" height="43" fill="#000"/>
<rect x="1133" y="204" width="5" height="27" fill="#000"/>
<rect x="1134" y="205" width="3" height="25" fill="#fff"/>
<rect x="1143" y="197" width="1" height="16" fill="#000"/>
<rect x="1141" y="204" width="5" height="3" fill="#000"/>
<rect x="1151" y="195" width="1" height="30" fill="#000"/>
<rect x="1149" y="202" width="5" height="9" fill="#000"/>
<rect x="1150" y="203" width="3" height="7" fill="#fff"/>
<rect x="1159" y="188" width="1" height="17" fill="#000"/>
<rect x="1157" y="191" width="5" height="11" fill="#000"/>
<rect x="1158" y="192" width="3" height="9" fill="#fff"/>
<rect x="1167" y="178" width="1" height="37" fill="#000"/>
<rect x="1165" y="181" width="5" height="8" fill="#000"/>
<rect x="1166" y="182" width="3" height="6" fill="#fff"/>
<rect x="1175" y="181" width="1" height="29" fill="#000"/>
<rect x="1173" y="181" width="5" height="24" fill="#000"/>
<rect x="1183" y="168" width="1" height="22" fill="#000"/>
<rect x="1181" y="178" width="5" height="8" fill="#000"/>
<rect x="1182" y="179" width="3" height="6" fill="#fff"/>
<rect x="1191" y="170" width="1" height="11" fill="#000"/>
<rect x="1189" y="172" width="5" height="7" fill="#000"/>
<rect x="1190" y="173" width="3" height="5" fill="#fff"/>
<rect x="1199" y="148" width="1" height="33" fill="#000"/>
<rect x="1197" y="159" width="5" height="4" fill="#000"/>
<rect x="1207" y="158" width="1" height="13" fill="#000"/>
<rect x="1205" y="158" width="5" height="5" fill="#000"/>
<rect x="1206" y="159" width="3" height="3" fill="#fff"/>
<rect x="1215" y="155" width="1" height="38" fill="#000"/>
<rect x="1213" y="167" width="5" height="25" fill="#000"/>
<rect x="1223" y="181" width="1" height="17" fill="#000"/>
<rect x="1221" y="181" width="5" height="10" fill="#000"/>
<rect x="1222" y="182" width="3" height="8" fill="#fff"/>
<rect x="1231" y="166" width="1" height="29" fill="#000"/>
<rect x="1229" y="179" width="5" height="15" fill="#000"/>
<rect x="1230" y="180" width="3" height="13" fill="#fff"/>
<rect x="1239" y="175" width="1" height="14" fill="#000"/>
<rect x="1237" y="179" width="5" height="5" fill="#000"/>
<rect x="1247" y="171" width="1" height="24" fill="#000"/>
<rect x="1245" y="175" width="5" height="2" fill="#000"/>
<rect x="1255" y="169" width="1" height="11" fill="#000"/>
<rect x="1253" y="172" width="5" height="4" fill="#000"/>
<rect x="1254" y="173" width="3" height="2" fill="#fff"/>
<rect x="1263" y="127" width="1" height="35" fill="#000"/>
<rect x="1261" y="132" width="5" height="22" fill="#000"/>
<rect x="1262" y="133" width="3" height="20" fill="#fff"/>
<rect x="1271" y="122" width="1" height="15" fill="#000"/>
<rect x="1269" y="122" width="5" height="12" fill="#000"/>
<rect x="1270" y="123" width="3" height="10" fill="#fff"/>
<rect x="1279" y="103" width="1" height="20" fill="#000"/>
<rect x="1277" y="115" width="5" height="1" fill="#000"/>
<rect x="1287" y="115" width="1" height="23" fill="#000"/>
<rect x="1285" y="115" width="5" height="13" fill="#000"/>
<rect x="1295" y="135" width="1" height="20" fill="#000"/>
<rect x="1293" y="143" width="5" height="12" fill="#000"/>
<rect x="1294" y="144" width="3" height="10" fill="#fff"/>
<rect x="1303" y="128" width="1" height="16" fill="#000"/>
<rect x="1301" y="129" width="5" height="13" fill="#000"/>
<rect x="1302" y="130" width="3" height="11" fill="#fff"/>
<rect x="1311" y="121" width="1" height="28" fill="#000"/>
<rect x="1309" y="124" width="5" height="9" fill="#000"/>
<rect x="1310" y="125" width="3" height="7" fill="#fff"/>
<rect x="1319" y="116" width="1" height="19" fill="#000"/>
<rect x="1317" y="119" width="5" height="5" fill="#000"/>
<rect x="1318" y="120" width="3" height="3" fill="#fff"/>
<rect x="1327" y="87" width="1" height="26" fill="#000"/>
<rect x="1325" y="91" width="5" height="8" fill="#000"/>
<rect x="1326" y="92" width="3" height="6" fill="#fff"/>
<rect x="1335" y="78" width="1" height="22" fill="#000"/>
<rect x="1333" y="79" width="5" height="13" fill="#000"/>
<rect x="1334" y="80" width="3" height="11" fill="#fff"/>
<rect x="1343" y="65" width="1" height="40" fill="#000"/>
<rect x="1341" y="70" width="5" height="34" fill="#000"/>
<rect x="1351" y="95" width="1" height="15" fill="#000"/>
<rect x="1349" y="98" width="5" height="6" fill="#000"/>
<rect x="1350" y="99" width="3" height="4" fill="#fff"/>
<rect x="1227" y="111" width="87" height="4" fill="#00ff00"/>
<path d="M1357 35h10l-5 5.500z" fill="#b4b4b4" shape-rendering="geometricPrecision"/>
<rect x="1586" y="77" width="2" height="1" fill="#000"/>
<rect x="1586" y="110" width="2" height="1" fill="#000"/>
<rect x="1586" y="143" width="2" height="1" fill="#000"/>
<rect x="1586" y="176" width="2" height="1" fill="#000"/>
<rect x="1586" y="209" width="2" height="1" fill="#000"/>
<rect x="1586" y="242" width="2" height="1" fill="#000"/>
<rect x="1586" y="275" width="2" height="1" fill="#000"/>
<rect x="1586" y="308" width="2" height="1" fill="#000"/>
<rect x="1586" y="341" width="2" height="1" fill="#000"/>
<rect x="1586" y="374" width="2" height="1" fill="#000"/>
<rect x="1586" y="407" width="2" height="1" fill="#000"/>
<rect x="1586" y="440" width="2" height="1" fill="#000"/>
<rect x="1587" y="93" width="41" height="11" fill="#000"/>
<rect x="1580" y="42" width="5" height="5" fill="#ff4500"/>
<rect x="1581" y="43" width="3" height="3" fill="#fff"/>
<rect x="1586" y="44" width="1" height="1" fill="#000"/>
<rect x="0" y="42" width="3" height="5" fill="#ff4500"/>
<rect x="0" y="43" width="2" height="3" fill="#fff"/>
<rect x="1587" y="38" width="41" height="11" fill="#ff4500"/>
<rect x="1580" y="62" width="5" height="5" fill="#ff4500"/>
<rect x="1581" y="63" width="3" height="3" fill="#fff"/>
<rect x="1586" y="64" width="1" height="1" fill="#000"/>
<rect x="0" y="62" width="3" height="5" fill="#ff4500"/>
<rect x="0" y="63" width="2" height="3" fill="#fff"/>
<rect x="1587" y="58" width="41" height="11" fill="#ff4500"/>
<rect x="1580" y="110" width="5" height="5" fill="#32cd32"/>
<rect x="1581" y="111" width="3" height="3" fill="#fff"/>
<rect x="1586" y="112" width="1" height="1" fill="#000"/>
<rect x="0" y="110" width="3" height="5" fill="#32cd32"/>
<rect x="0" y="111" width="2" height="3" fill="#fff"/>
<rect x="1587" y="106" width="41" height="11" fill="#32cd32"/>
<rect x="1580" y="137" width="5" height="5" fill="#0000ff"/>
<rect x="1581" y="138" width="3" height="3" fill="#fff"/>
<rect x="1586" y="139" width="1" height="1" fill="#000"/>
<rect x="0" y="137" width="3" height="5" fill="#0000ff"/>
<rect x="0" y="138" width="2" height="3" fill="#fff"/>
<rect x="1587" y="133" width="41" height="11" fill="#0000ff"/>
<rect x="1580" y="161" width="5" height="5" fill="#0000ff"/>
<rect x="1581" y="162" width="3" height="3" fill="#fff"/>
<rect x="1586" y="163" width="1" height="1" fill="#000"/>
<rect x="0" y="161" width="3" height="5" fill="#0000ff"/>
<rect x="0" y="162" width="2" height="3" fill="#fff"/>
<rect x="1587" y="157" width="41" height="11" fill="#0000ff"/>
<rect x="7" y="482" width="1" height="33" fill="#c0c0c0"/>
<rect x="15" y="490" width="1" height="25" fill="#c0c0c0"/>
<rect x="23" y="501" width="1" height="14" fill="#c0c0c0"/>
<rect x="31" y="510" width="1" height="5" fill="#c0c0c0"/>
<rect x="47" y="514" width="1" height="12" fill="#c0c0c0"/>
<rect x="55" y="514" width="1" height="21" fill="#c0c0c0"/>
<rect x="63" y="514" width="1" height="28" fill="#c0c0c0"/>
<rect x="71" y="514" width="1" height="35" fill="#c0c0c0"/>
<rect x="79" y="514" width="1" height="41" fill="#c0c0c0"/>
<rect x="87" y="514" width="1" height="48" fill="#c0c0c0"/>
<rect x="95" y="514" width="1" height="51" fill="#c0c0c0"/>
<rect x="103" y="514" width="1" height="56" fill="#c0c0c0"/>
<rect x="111" y="514" width="1" height="56" fill="#c0c0c0"/>
<rect x="119" y="514" width="1" height="57" fill="#c0c0c0"/>
<rect x="127" y="514" width="1" height="71" fill="#c0c0c0"/>
<rect x="135" y="514" width="1" height="81" fill="#c0c0c0"/>
<rect x="143" y="514" width="1" height="83" fill="#c0c0c0"/>
<rect x="151" y="514" width="1" height="82" fill="#c0c0c0"/>
<rect x="159" y="514" width="1" height="83" fill="#c0c0c0"/>
<rect x="167" y="514" width="1" height="85" fill="#c0c0c0"/>
<rect x="175" y="514" width="1" height="85" fill="#c0c0c0"/>
<rect x="183" y="514" width="1" height="84" fill="#c0c0c0"/>
<rect x="191" y="514" width="1" height="81" fill="#c0c0c0"/>
<rect x="199" y="514" width="1" height="80" fill="#c0c0c0"/>
<rect x="207" y="514" width="1" height="77" fill="#c0c0c0"/>
<rect x="215" y="514" width="1" height="73" fill="#c0c0c0"/>
<rect x="223" y="514" width="1" height="59" fill="#c0c0c0"/>
<rect x="231" y="514" width="1" height="48" fill="#c0c0c0"/>
<rect x="239" y="514" width="1" height="46" fill="#c0c0c0"/>
<rect x="247" y="514" width="1" height="48" fill="#c0c0c0"/>
<rect x="255" y="514" width="1" height="45" fill="#c0c0c0"/>
<rect x="263" y="514" width="1" height="48" fill="#c0c0c0"/>
<rect x="271" y="514" width="1" height="55" fill="#c0c0c0"/>
<rect x="279" y="514" width="1" height="59" fill="#c0c0c0"/>
<rect x="287" y="514" width="1" height="66" fill="#c0c0c0"/>
<rect x="295" y="514" width="1" height="69" fill="#c0c0c0"/>
<rect x="303" y="514" width="1" height="71" fill="#c0c0c0"/>
<rect x="311" y="514" width="1" height="70" fill="#c0c0c0"/>
<rect x="319" y="514" width="1" height="68" fill="#c0c0c0"/>
<rect x="327" y="514" width="1" height="69" fill="#c0c0c0"/>
<rect x="335" y="514" width="1" height="66" fill="#c0c0c0"/>
<rect x="343" y="514" width="1" height="62" fill="#c0c0c0"/>
<rect x="351" y="514" width="1" height="50" fill="#c0c0c0"/>
<rect x="359" y="514" width="1" height="41" fill="#c0c0c0"/>
<rect x="367" y="514" width="1" height="25" fill="#c0c0c0"/>
<rect x="375" y="514" width="1" height="4" fill="#c0c0c0"/>
<rect x="383" y="513" width="1" height="2" fill="#c0c0c0"/>
<rect x="391" y="507" width="1" height="8" fill="#c0c0c0"/>
<rect x="399" y="503" width="1" height="12" fill="#c0c0c0"/>
<rect x="407" y="497" width="1" height="18" fill="#c0c0c0"/>
<rect x="415" y="487" width="1" height="28" fill="#c0c0c0"/>
<rect x="423" y="484" width="1" height="31" fill="#c0c0c0"/>
<rect x="431" y="478" width="1" height="37" fill="#c0c0c0"/>
<rect x="439" y="476" width="1" height="39" fill="#c0c0c0"/>
<rect x="447" y="485" width="1" height="30" fill="#c0c0c0"/>
<rect x="455" y="493" width="1" height="22" fill="#c0c0c0"/>
<rect x="463" y="497" width="1" height="18" fill="#c0c0c0"/>
<rect x="471" y="502" width="1" height="13" fill="#c0c0c0"/>
<rect x="479" y="506" width="1" height="9" fill="#c0c0c0"/>
<rect x="487" y="505" width="1" height="10" fill="#c0c0c0"/>
<rect x="495" y="506" width="1" height="9" fill="#c0c0c0"/>
<rect x="503" y="510" width="1" height="5" fill="#c0c0c0"/>
<rect x="511" y="510" width="1" height="5" fill="#c0c0c0"/>
<rect x="519" y="506" width="1" height="9" fill="#c0c0c0"/>
<rect x="527" y="501" width="1" height="14" fill="#c0c0c0"/>
<rect x="535" y="498" width="1" height="17" fill="#c0c0c0"/>
<rect x="543" y="494" width="1" height="21" fill="#c0c0c0"/>
<rect x="551" y="490" width="1" height="25" fill="#c0c0c0"/>
<rect x="559" y="494" width="1" height="21" fill="#c0c0c0"/>
<rect x="567" y="498" width="1" height="17" fill="#c0c0c0"/>
<rect x="575" y="502" width="1" height="13" fill="#c0c0c0"/>
<rect x="583" y="503" width="1" height="12" fill="#c0c0c0"/>
<rect x="591" y="504" width="1" height="11" fill="#c0c0c0"/>
<rect x="599" y="504" width="1" height="11" fill="#c0c0c0"/>
<rect x="607" y="505" width="1" height="10" fill="#c0c0c0"/>
<rect x="615" y="506" width="1" height="9" fill="#c0c0c0"/>
<rect x="623" y="502" width="1" height="13" fill="#c0c0c0"/>
<rect x="631" y="496" width="1" height="19" fill="#c0c0c0"/>
<rect x="639" y="493" width="1" height="22" fill="#c0c0c0"/>
<rect x="647" y="492" width="1" height="23" fill="#c0c0c0"/>
<rect x="655" y="487" width="1" height="28" fill="#c0c0c0"/>
<rect x="663" y="483" width="1" height="32" fill="#c0c0c0"/>
<rect x="671" y="479" width="1" height="36" fill="#c0c0c0"/>
<rect x="679" y="480" width="1" height="35" fill="#c0c0c0"/>
<rect x="687" y="478" width="1" height="37" fill="#c0c0c0"/>
<rect x="695" y="479" width="1" height="36" fill="#c0c0c0"/>
<rect x="703" y="469" width="1" height="46" fill="#c0c0c0"/>
<rect x="711" y="462" width="1" height="53" fill="#c0c0c0"/>
<rect x="719" y="459" width="1" height="56" fill="#c0c0c0"/>
<rect x="727" y="456" width="1" height="59" fill="#c0c0c0"/>
<rect x="735" y="459" width="1" height="56" fill="#c0c0c0"/>
<rect x="743" y="464" width="1" height="51" fill="#c0c0c0"/>
<rect x="751" y="478" width="1" height="37" fill="#c0c0c0"/>
<rect x="759" y="489" width="1" height="26" fill="#c0c0c0"/>
<rect x="767" y="496" width="1" height="19" fill="#c0c0c0"/>
<rect x="775" y="505" width="1" height="10" fill="#c0c0c0"/>
<rect x="783" y="514" width="1" height="2" fill="#c0c0c0"/>
<rect x="791" y="514" width="1" height="11" fill="#c0c0c0"/>
<rect x="799" y="514" width="1" height="18" fill="#c0c0c0"/>
<rect x="807" y="514" width="1" height="24" fill="#c0c0c0"/>
<rect x="815" y="514" width="1" height="21" fill="#c0c0c0"/>
<rect x="823" y="514" width="1" height="17" fill="#c0c0c0"/>
<rect x="831" y="514" width="1" height="9" fill="#c0c0c0"/>
<rect x="839" y="514" width="1" height="5" fill="#c0c0c0"/>
<rect x="847" y="514" width="1" height="6" fill="#c0c0c0"/>
<rect x="855" y="514" width="1" height="8" fill="#c0c0c0"/>
<rect x="863" y="514" width="1" height="9" fill="#c0c0c0"/>
<rect x="871" y="514" width="1" height="10" fill="#c0c0c0"/>
<rect x="879" y="514" width="1" height="14" fill="#c0c0c0"/>
<rect x="887" y="514" width="1" height="17" fill="#c0c0c0"/>
<rect x="895" y="514" width="1" height="19" fill="#c0c0c0"/>
<rect x="903" y="514" width="1" height="19" fill="#c0c0c0"/>
<rect x="911" y="514" width="1" height="24" fill="#c0c0c0"/>
<rect x="919" y="514" width="1" height="29" fill="#c0c0c0"/>
<rect x="927" y="514" width="1" height="31" fill="#c0c0c0"/>
<rect x="935" y="514" width="1" height="31" fill="#c0c0c0"/>
<rect x="943" y="514" width="1" height="31" fill="#c0c0c0"/>
<rect x="951" y="514" width="1" height="28" fill="#c0c0c0"/>
<rect x="959" y="514" width="1" height="31" fill="#c0c0c0"/>
<rect x="967" y="514" width="1" height="32" fill="#c0c0c0"/>
<rect x="975" y="514" width="1" height="31" fill="#c0c0c0"/>
<rect x="983" y="514" width="1" height="27" fill="#c0c0c0"/>
<rect x="991" y="514" width="1" height="32" fill="#c0c0c0"/>
<rect x="999" y="514" width="1" height="39" fill="#c0c0c0"/>
<rect x="1007" y="514" width="1" height="44" fill="#c0c0c0"/>
<rect x="1015" y="514" width="1" height="46" fill="#c0c0c0"/>
<rect x="1023" y="514" width="1" height="43" fill="#c0c0c0"/>
<rect x="1031" y="514" width="1" height="36" fill="#c0c0c0"/>
<rect x="1039" y="514" width="1" height="28" fill="#c0c0c0"/>
<rect x="1047" y="514" width="1" height="21" fill="#c0c0c0"/>
<rect x="1055" y="514" width="1" height="14" fill="#c0c0c0"/>
<rect x="1063" y="514" width="1" height="9" fill="#c0c0c0"/>
<rect x="1071" y="510" width="1" height="5" fill="#c0c0c0"/>
<rect x="1079" y="500" width="1" height="15" fill="#c0c0c0"/>
<rect x="1087" y="491" width="1" height="24" fill="#c0c0c0"/>
<rect x="1095" y="486" width="1" height="29" fill="#c0c0c0"/>
<rect x="1103" y="481" width="1" height="34" fill="#c0c0c0"/>
<rect x="1111" y="476" width="1" height="39" fill="#c0c0c0"/>
<rect x="1119" y="478" width="1" height="37" fill="#c0c0c0"/>
<rect x="1127" y="480" width="1" height="35" fill="#c0c0c0"/>
<rect x="1135" y="476" width="1" height="39" fill="#c0c0c0"/>
<rect x="1143" y="473" width="1" height="42" fill="#c0c0c0"/>
<rect x="1151" y="470" width="1" height="45" fill="#c0c0c0"/>
<rect x="1159" y="467" width="1" height="48" fill="#c0c0c0"/>
<rect x="1167" y="464" width="1" height="51" fill="#c0c0c0"/>
<rect x="1175" y="466" width="1" height="49" fill="#c0c0c0"/>
<rect x="1183" y="464" width="1" height="51" fill="#c0c0c0"/>
<rect x="1191" y="462" width="1" height="53" fill="#c0c0c0"/>
<rect x="1199" y="459" width="1" height="56" fill="#c0c0c0"/>
<rect x="1207" y="458" width="1" height="57" fill="#c0c0c0"/>
<rect x="1215" y="462" width="1" height="53" fill="#c0c0c0"/>
<rect x="1223" y="464" width="1" height="51" fill="#c0c0c0"/>
<rect x="1231" y="466" width="1" height="49" fill="#c0c0c0"/>
<rect x="1239" y="469" width="1" height="46" fill="#c0c0c0"/>
<rect x="1247" y="470" width="1" height="45" fill="#c0c0c0"/>
<rect x="1255" y="472" width="1" height="43" fill="#c0c0c0"/>
<rect x="1263" y="467" width="1" height="48" fill="#c0c0c0"/>
<rect x="1271" y="463" width="1" height="52" fill="#c0c0c0"/>
<rect x="1279" y="459" width="1" height="56" fill="#c0c0c0"/>
<rect x="1287" y="459" width="1" height="56" fill="#c0c0c0"/>
<rect x="1295" y="461" width="1" height="54" fill="#c0c0c0"/>
<rect x="1303" y="462" width="1" height="53" fill="#c0c0c0"/>
<rect x="1311" y="462" width="1" height="53" fill="#c0c0c0"/>
<rect x="1319" y="462" width="1" height="53" fill="#c0c0c0"/>
<rect x="1327" y="459" width="1" height="56" fill="#c0c0c0"/>
<rect x="1335" y="455" width="1" height="60" fill="#c0c0c0"/>
<rect x="1343" y="456" width="1" height="59" fill="#c0c0c0"/>
<rect x="1351" y="457" width="1" height="58" fill="#c0c0c0"/>
<rect x="1586" y="447" width="1" height="1" fill="#000"/>
<rect x="1586" y="514" width="2" height="1" fill="#000"/>
<rect x="1586" y="606" width="1" height="1" fill="#000"/>
<path d="M0 491h2v1h-2zM2 490h1v1h-1zM6 488h3v1h-3zM12 487h3v1h-3zM18 487h3v1h-3zM24 487h2v1h-2zM26 488h1v1h-1zM30 489h3v1h-3zM36 491h2v1h-2zM38 492h1v1h-1zM42 494h2v1h-2zM44 495h1v1h-1zM48 498h2v1h-2zM50 499h1v1h-1zM54 501h1v1h-1zM55 502h1v1h-1zM56 503h1v1h-1zM60 506h1v1h-1zM61 507h1v1h-1zM62 508h1v1h-1zM66 512h2v1h-2zM68 513h1v1h-1zM72 517h1v1h-1zM73 518h1v1h-1zM74 519h1v1h-1zM78 522h1v1h-1zM79 523h1v1h-1zM80 524h1v1h-1zM83 528h1v1h-1zM84 529h1v1h-1zM85 530h1v1h-1zM89 534h1v1h-1zM90 535h1v1h-1zM91 536h1v1h-1zM95 540h1v1h-1zM96 541h1v1h-1zM97 542h1v1h-1zM101 545h1v1h-1zM102 546h1v1h-1zM103 547h1v1h-1zM107 550h1v1h-1zM108 551h2v1h-2zM113 554h1v1h-1zM114 555h2v1h-2zM119 558h1v1h-1zM120 559h2v1h-2zM125 562h2v1h-2zM127 563h1v1h-1zM131 566h1v1h-1zM132 567h2v1h-2zM137 570h1v1h-1zM138 571h1v1h-1zM139 572h1v1h-1zM143 575h2v1h-2zM145 576h1v1h-1zM149 578h2v1h-2zM151 579h1v1h-1zM155 581h2v1h-2zM157 582h1v1h-1zM161 584h2v1h-2zM163 585h1v1h-1zM167 587h2v1h-2zM169 588h1v1h-1zM173 589h1v1h-1zM174 590h2v1h-2zM179 591h1v1h-1zM180 592h2v1h-2zM185 593h1v1h-1zM186 594h2v1h-2zM191 595h3v1h-3zM197 596h3v1h-3zM203 596h3v1h-3zM209 596h3v1h-3zM215 595h3v1h-3zM221 594h1v1h-1zM222 593h2v1h-2zM227 591h2v1h-2zM229 590h1v1h-1zM233 588h1v1h-1zM234 587h2v1h-2zM239 584h2v1h-2zM241 583h1v1h-1zM245 582h1v1h-1zM246 581h2v1h-2zM251 579h2v1h-2zM253 578h1v1h-1zM257 576h2v1h-2zM259 575h1v1h-1zM263 573h2v1h-2zM265 572h1v1h-1zM269 570h2v1h-2zM271 569h1v1h-1zM275 568h3v1h-3zM281 567h3v1h-3zM287 567h3v1h-3zM293 568h3v1h-3zM299 569h3v1h-3zM305 570h1v1h-1zM306 571h2v1h-2zM311 572h2v1h-2zM313 573h1v1h-1zM317 575h2v1h-2zM319 576h1v1h-1zM323 577h3v1h-3zM329 578h1v1h-1zM330 579h2v1h-2zM335 580h3v1h-3zM341 580h3v1h-3zM347 580h1v1h-1zM348 579h2v1h-2zM353 578h3v1h-3zM359 576h2v1h-2zM361 575h1v1h-1zM365 573h2v1h-2zM367 572h1v1h-1zM371 569h1v1h-1zM372 568h1v1h-1zM373 567h1v1h-1zM377 563h1v1h-1zM378 562h1v1h-1zM379 561h1v1h-1zM382 557h1v1h-1zM383 556h1v1h-1zM384 555h1v1h-1zM388 551h1v1h-1zM389 550h1v1h-1zM390 549h1v1h-1zM393 545h1v1h-1zM394 544h1v1h-1zM395 543h1v1h-1zM398 539h1v1h-1zM399 538h1v1h-1zM400 537h1v1h-1zM403 533h1v1h-1zM404 532h1v1h-1zM405 531h1v1h-1zM409 527h1v1h-1zM410 526h1v1h-1zM411 525h1v1h-1zM414 521h1v1h-1zM415 520h1v1h-1zM416 519h1v1h-1zM419 515h1v1h-1zM420 514h1v1h-1zM421 513h1v1h-1zM425 509h1v1h-1zM426 508h1v1h-1zM427 507h1v1h-1zM430 503h1v1h-1zM431 502h1v1h-1zM432 501h1v1h-1zM436 498h1v1h-1zM437 497h1v1h-1zM438 496h1v1h-1zM442 493h2v1h-2zM444 492h1v1h-1zM448 490h3v1h-3zM454 489h3v1h-3zM460 488h3v1h-3zM466 488h3v1h-3zM472 488h3v1h-3zM478 489h3v1h-3zM484 490h2v1h-2zM486 491h1v1h-1zM490 492h3v1h-3zM496 493h1v1h-1zM497 494h2v1h-2zM502 496h1v1h-1zM503 497h2v1h-2zM508 499h2v1h-2zM510 500h1v1h-1zM514 501h2v1h-2zM516 502h1v1h-1zM520 503h3v1h-3zM526 504h3v1h-3zM532 504h3v1h-3zM538 503h3v1h-3zM544 502h3v1h-3zM550 501h3v1h-3zM556 500h3v1h-3zM562 500h2v1h-2zM564 499h1v1h-1zM568 499h3v1h-3zM574 498h3v1h-3zM580 498h3v1h-3zM586 498h2v1h-2zM588 497h1v1h-1zM592 497h3v1h-3zM598 498h3v1h-3zM604 498h3v1h-3zM610 499h3v1h-3zM616 500h3v1h-3zM622 501h3v1h-3zM628 501h3v1h-3zM634 501h2v1h-2zM636 500h1v1h-1zM640 500h3v1h-3zM646 499h3v1h-3zM652 498h3v1h-3zM658 497h2v1h-2zM660 496h1v1h-1zM664 495h2v1h-2zM666 494h1v1h-1zM670 493h3v1h-3zM676 492h2v1h-2zM678 491h1v1h-1zM682 490h1v1h-1zM683 489h2v1h-2zM688 487h1v1h-1zM689 486h2v1h-2zM694 484h3v1h-3zM700 482h2v1h-2zM702 481h1v1h-1zM706 480h1v1h-1zM707 479h2v1h-2zM712 477h1v1h-1zM713 476h2v1h-2zM718 474h3v1h-3zM724 472h2v1h-2zM726 471h1v1h-1zM730 470h2v1h-2zM732 469h1v1h-1zM736 468h2v1h-2zM738 467h1v1h-1zM742 466h3v1h-3zM748 466h3v1h-3zM754 466h2v1h-2zM756 467h1v1h-1zM760 467h2v1h-2zM762 468h1v1h-1zM766 469h3v1h-3zM772 471h1v1h-1zM773 472h2v1h-2zM778 476h2v1h-2zM780 477h1v1h-1zM784 481h1v1h-1zM785 482h1v1h-1zM786 483h1v1h-1zM790 487h1v1h-1zM791 488h1v1h-1zM792 489h1v1h-1zM796 492h1v1h-1zM797 493h1v1h-1zM798 494h1v1h-1zM802 498h1v1h-1zM803 499v2h1v-2zM807 504h1v1h-1zM808 505h1v1h-1zM809 506h1v1h-1zM813 509h1v1h-1zM814 510h1v1h-1zM815 511h1v1h-1zM819 513h1v1h-1zM820 514h1v1h-1zM821 515h1v1h-1zM825 517h1v1h-1zM826 518h1v1h-1zM827 519h1v1h-1zM831 522h2v1h-2zM833 523h1v1h-1zM837 524h1v1h-1zM838 525h2v1h-2zM843 525h1v1h-1zM844 526h2v1h-2zM849 526h3v1h-3zM855 527h3v1h-3zM861 526h3v1h-3zM867 526h3v1h-3zM873 526h3v1h-3zM879 525h3v1h-3zM885 525h3v1h-3zM891 525h3v1h-3zM897 525h3v1h-3zM903 526h3v1h-3zM909 527h1v1h-1zM910 528h2v1h-2zM915 529h3v1h-3zM921 531h3v1h-3zM927 533h3v1h-3zM933 534h1v1h-1zM934 535h2v1h-2zM939 536h1v1h-1zM940 537h2v1h-2zM945 538h3v1h-3zM951 539h2v1h-2zM953 540h1v1h-1zM957 541h1v1h-1zM958 542h2v1h-2zM963 542h1v1h-1zM964 543h2v1h-2zM969 543h3v1h-3zM975 544h3v1h-3zM981 544h3v1h-3zM987 544h1v1h-1zM988 545h2v1h-2zM993 545h3v1h-3zM999 546h3v1h-3zM1005 547h3v1h-3zM1011 548h3v1h-3zM1017 549h3v1h-3zM1023 550h3v1h-3zM1029 551h3v1h-3zM1035 551h1v1h-1zM1036 550h2v1h-2zM1041 550h3v1h-3zM1047 549h3v1h-3zM1053 548h1v1h-1zM1054 547h2v1h-2zM1059 546h3v1h-3zM1065 544h1v1h-1zM1066 543h1v1h-1zM1067 542h1v1h-1zM1071 539h1v1h-1zM1072 538h2v1h-2zM1077 535h2v1h-2zM1079 534h1v1h-1zM1083 530h1v1h-1zM1084 529h1v1h-1zM1085 528h1v1h-1zM1089 524h1v1h-1zM1090 523h1v1h-1zM1091 522h1v1h-1zM1094 518h1v1h-1zM1095 517h1v1h-1zM1096 516h1v1h-1zM1100 513h2v1h-2zM1102 512h1v1h-1zM1106 508h1v1h-1zM1107 507h1v1h-1zM1108 506h1v1h-1zM1112 502h1v1h-1zM1113 501h1v1h-1zM1114 500h1v1h-1zM1118 497h1v1h-1zM1119 496h2v1h-2zM1124 494h1v1h-1zM1125 493h2v1h-2zM1130 490h1v1h-1zM1131 489h1v1h-1zM1132 488h1v1h-1zM1136 485h2v1h-2zM1138 484h1v1h-1zM1142 482h1v1h-1zM1143 481h2v1h-2zM1148 479h2v1h-2zM1150 478h1v1h-1zM1154 477h2v1h-2zM1156 476h1v1h-1zM1160 475h1v1h-1zM1161 474h2v1h-2zM1166 472h3v1h-3zM1172 471h3v1h-3zM1178 471h2v1h-2zM1180 470h1v1h-1zM1184 470h2v1h-2zM1186 469h1v1h-1zM1190 468h3v1h-3zM1196 467h2v1h-2zM1198 466h1v1h-1zM1202 465h3v1h-3zM1208 464h2v1h-2zM1210 463h1v1h-1zM1214 462h3v1h-3zM1220 462h3v1h-3zM1226 462h3v1h-3zM1232 462h3v1h-3zM1238 462h3v1h-3zM1244 463h3v1h-3zM1250 463h2v1h-2zM1252 464h1v1h-1zM1256 464h3v1h-3zM1262 464h3v1h-3zM1268 465h3v1h-3zM1274 465h3v1h-3zM1280 465h3v1h-3zM1286 464h3v1h-3zM1292 464h3v1h-3zM1298 464h3v1h-3zM1304 464h3v1h-3zM1310 463h3v1h-3zM1316 462h3v1h-3zM1322 461h3v1h-3zM1328 460h3v1h-3zM1334 459h3v1h-3zM1340 458h3v1h-3zM1346 458h3v1h-3z" fill="#ff0000"/>
<path d="M0 640.500H1585" stroke="#c0c0c0" stroke-width="1" stroke-dasharray="3 3"/>
<path d="M0 684.500H1585" stroke="#c0c0c0" stroke-width="1" stroke-dasharray="3 3"/>
<path d="M0 736.500H1585" stroke="#c0c0c0" stroke-width="1" stroke-dasharray="3 3"/>
<path d="M0 670h4v1h-4zM4 671h4v1h-4zM7 672h1v1h-1zM8 673v2h1v-2zM9 675v2h1v-2zM10 677v2h1v-2zM11 679v3h1v-3zM12 682v2h1v-2zM13 684v2h1v-2zM14 686v2h1v-2zM15 688v2h1v-2zM16 690h1v1h-1zM17 691h1v1h-1zM18 692h1v1h-1zM19 693h1v1h-1zM20 694h1v1h-1zM21 695h1v1h-1zM22 696h1v1h-1zM23 697h10v1h-10zM33 696h3v1h-3zM36 695h2v1h-2zM38 694h2v1h-2zM40 695h1v1h-1zM41 696v2h1v-2zM42 698h1v1h-1zM43 699h1v1h-1zM44 700h1v1h-1zM45 701v2h1v-2zM46 703h1v1h-1zM47 704h5v1h-5zM52 705h8v1h-8zM60 706h8v1h-8zM68 707h5v1h-5zM73 708h3v1h-3zM76 709h2v1h-2zM78 710h3v1h-3zM81 711h3v1h-3zM84 712h2v1h-2zM86 713h2v1h-2zM88 712h2v1h-2zM90 711h1v1h-1zM91 710h1v1h-1zM92 709h2v1h-2zM94 708h1v1h-1zM95 707h1v1h-1zM96 708h2v1h-2zM98 709h2v1h-2zM100 710h1v1h-1zM101 711h2v1h-2zM103 712h1v1h-1zM104 711h1v1h-1zM105 710h1v1h-1zM106 709h1v1h-1zM107 707v2h1v-2zM108 706h1v1h-1zM109 705h1v1h-1zM110 704h1v1h-1zM111 703h2v1h-2zM113 704h3v1h-3zM116 705h2v1h-2zM118 706h2v1h-2zM120 707v2h1v-2zM121 709v2h1v-2zM122 711v2h1v-2zM123 713v2h1v-2zM124 715v2h1v-2zM125 717v2h1v-2zM126 719v2h1v-2zM127 721h5v1h-5zM132 722h4v1h-4zM136 720v2h1v-2zM137 718v2h1v-2zM138 716v2h1v-2zM139 715h1v1h-1zM140 713v2h1v-2zM141 711v2h1v-2zM142 709v2h1v-2zM143 708h2v1h-2zM145 707h3v1h-3zM148 706h2v1h-2zM150 705h3v1h-3zM153 706h3v1h-3zM156 707h2v1h-2zM158 708h3v1h-3zM161 709h3v1h-3zM164 710h2v1h-2zM166 711h12v1h-12zM178 710h4v1h-4zM182 709h14v1h-14zM196 708h8v1h-8zM204 709h5v1h-5zM209 708h2v1h-2zM211 707h2v1h-2zM213 706h2v1h-2zM215 704v2h1v-2zM216 701v3h1v-3zM217 697v4h1v-4zM218 694v3h1v-3zM219 691v3h1v-3zM220 688v3h1v-3zM221 684v4h1v-4zM222 681v3h1v-3zM223 679v2h1v-2zM224 679h4v1h-4zM228 680h4v1h-4zM232 681v2h1v-2zM233 683v2h1v-2zM234 685v2h1v-2zM235 687h1v1h-1zM236 688v2h1v-2zM237 690v2h1v-2zM238 692v2h1v-2zM239 694h1v1h-1zM240 695h1v1h-1zM241 696h1v1h-1zM242 697h2v1h-2zM244 698h1v1h-1zM245 699h1v1h-1zM246 700h1v1h-1zM247 701h1v1h-1zM248 700h1v1h-1zM249 699h1v1h-1zM250 698h2v1h-2zM252 697h1v1h-1zM253 696h1v1h-1zM254 695h1v1h-1zM255 694h1v1h-1zM256 695h1v1h-1zM257 696h1v1h-1zM258 697h2v1h-2zM260 698h1v1h-1zM261 699h1v1h-1zM262 700h1v1h-1zM263 701h1v1h-1zM264 702h1v1h-1zM265 703h1v1h-1zM266 704h1v1h-1zM267 705h1v1h-1zM268 706h1v1h-1zM269 707h1v1h-1zM270 708h1v1h-1zM271 709h2v1h-2zM273 708h2v1h-2zM275 707h2v1h-2zM277 706h2v1h-2zM279 705h1v1h-1zM280 706h2v1h-2zM282 707h2v1h-2zM284 708h1v1h-1zM285 709h2v1h-2zM287 710h3v1h-3zM290 709h4v1h-4zM294 708h6v1h-6zM300 707h6v1h-6zM306 706h4v1h-4zM310 705h6v1h-6zM316 704h5v1h-5zM321 705h2v1h-2zM323 706h2v1h-2zM325 707h2v1h-2zM327 708h1v1h-1zM328 707h2v1h-2zM330 706h1v1h-1zM331 705h1v1h-1zM332 704h2v1h-2zM334 703h1v1h-1zM335 702h1v1h-1zM336 701h2v1h-2zM338 700h1v1h-1zM339 699h1v1h-1zM340 698h2v1h-2zM342 697h1v1h-1zM343 696h1v1h-1zM344 694v2h1v-2zM345 692v2h1v-2zM346 690v2h1v-2zM347 688v2h1v-2zM348 686v2h1v-2zM349 684v2h1v-2zM350 682v2h1v-2zM351 681h3v1h-3zM354 682h4v1h-4zM358 683h2v1h-2zM360 681v2h1v-2zM361 679v2h1v-2zM362 677v2h1v-2zM363 675v2h1v-2zM364 673v2h1v-2zM365 671v2h1v-2zM366 669v2h1v-2zM367 668h1v1h-1zM368 667h1v1h-1zM369 666h1v1h-1zM370 665h1v1h-1zM371 664h1v1h-1zM372 663h1v1h-1zM373 662h1v1h-1zM374 661h1v1h-1zM375 660v2h1v-2zM376 662v2h1v-2zM377 664v2h1v-2zM378 666v2h1v-2zM379 668v3h1v-3zM380 671v2h1v-2zM381 673v2h1v-2zM382 675v2h1v-2zM383 677v2h1v-2zM384 678h2v1h-2zM386 677h4v1h-4zM390 676h11v1h-11zM401 675h3v1h-3zM404 674h2v1h-2zM406 673h2v1h-2zM408 672h2v1h-2zM410 671h1v1h-1zM411 670h1v1h-1zM412 669h2v1h-2zM414 668h1v1h-1zM415 667h1v1h-1zM416 668h2v1h-2zM418 669h1v1h-1zM419 670h1v1h-1zM420 671h2v1h-2zM422 672h1v1h-1zM423 673h2v1h-2zM425 672h2v1h-2zM427 671h2v1h-2zM429 670h2v1h-2zM431 669h2v1h-2zM433 670h2v1h-2zM435 671h2v1h-2zM437 672h2v1h-2zM439 673h1v1h-1zM440 674v2h1v-2zM441 676v2h1v-2zM442 678v2h1v-2zM443 680v2h1v-2zM444 682v2h1v-2zM445 684v2h1v-2zM446 686v2h1v-2zM447 688h3v1h-3zM450 689h4v1h-4zM454 690h2v1h-2zM456 689h2v1h-2zM458 688h2v1h-2zM460 687h1v1h-1zM461 686h2v1h-2zM463 685h2v1h-2zM465 686h3v1h-3zM468 687h2v1h-2zM470 688h6v1h-6zM476 687h4v1h-4zM480 686h2v1h-2zM482 685h1v1h-1zM483 684h1v1h-1zM484 683h2v1h-2zM486 682h1v1h-1zM487 681h2v1h-2zM489 682h3v1h-3zM492 683h2v1h-2zM494 684h3v1h-3zM497 685h2v1h-2zM499 686h2v1h-2zM501 687h2v1h-2zM503 688h2v1h-2zM505 687h2v1h-2zM507 686h2v1h-2zM509 685h2v1h-2zM511 684h1v1h-1zM512 683h1v1h-1zM513 682h1v1h-1zM514 681h1v1h-1zM515 680h1v1h-1zM516 679h1v1h-1zM517 678h1v1h-1zM518 677h1v1h-1zM519 676h2v1h-2zM521 675h3v1h-3zM524 674h2v1h-2zM526 673h4v1h-4zM530 674h4v1h-4zM534 675h3v1h-3zM537 674h3v1h-3zM540 673h2v1h-2zM542 672h6v1h-6zM548 671h4v1h-4zM552 672v2h1v-2zM553 674v2h1v-2zM554 676v2h1v-2zM555 678h1v1h-1zM556 679v2h1v-2zM557 681v2h1v-2zM558 683v2h1v-2zM559 685h5v1h-5zM564 686h13v1h-13zM577 685h2v1h-2zM579 684h2v1h-2zM581 683h2v1h-2zM583 682h21v1h-21zM604 683h12v1h-12zM616 681v2h1v-2zM617 679v2h1v-2zM618 677v2h1v-2zM619 675v2h1v-2zM620 673v2h1v-2zM621 671v2h1v-2zM622 669v2h1v-2zM623 668h5v1h-5zM628 667h5v1h-5zM633 668h3v1h-3zM636 669h2v1h-2zM638 670h3v1h-3zM641 671h3v1h-3zM644 672h2v1h-2zM646 673h2v1h-2zM648 672h1v1h-1zM649 671h1v1h-1zM650 670h1v1h-1zM651 668v2h1v-2zM652 667h1v1h-1zM653 666h1v1h-1zM654 665h1v1h-1zM655 664h5v1h-5zM660 663h6v1h-6zM666 662h4v1h-4zM670 661h2v1h-2zM672 662v2h1v-2zM673 664h1v1h-1zM674 665h1v1h-1zM675 666v2h1v-2zM676 668h1v1h-1zM677 669h1v1h-1zM678 670v2h1v-2zM679 672h1v1h-1zM680 671h2v1h-2zM682 670h1v1h-1zM683 669h1v1h-1zM684 668h2v1h-2zM686 667h1v1h-1zM687 666h1v1h-1zM688 667h2v1h-2zM690 668h1v1h-1zM691 669h1v1h-1zM692 670h2v1h-2zM694 671h1v1h-1zM695 671v2h1v-2zM696 669v2h1v-2zM697 667v2h1v-2zM698 665v2h1v-2zM699 663v2h1v-2zM700 661v2h1v-2zM701 659v2h1v-2zM702 657v2h1v-2zM703 655v2h1v-2zM704 655h8v1h-8zM712 656h2v1h-2zM714 657h2v1h-2zM716 658h1v1h-1zM717 659h2v1h-2zM719 660h3v1h-3zM722 659h4v1h-4zM726 658h2v1h-2zM728 659v2h1v-2zM729 661v2h1v-2zM730 663v2h1v-2zM731 665v2h1v-2zM732 667v2h1v-2zM733 669v2h1v-2zM734 671v2h1v-2zM735 673h2v1h-2zM737 674h3v1h-3zM740 675h2v1h-2zM742 676h2v1h-2zM743 677h1v1h-1zM744 678v2h1v-2zM745 680v2h1v-2zM746 682v3h1v-3zM747 685v2h1v-2zM748 687v3h1v-3zM749 690v2h1v-2zM750 692v2h1v-2zM751 694v2h1v-2zM752 695h2v1h-2zM754 694h4v1h-4zM758 693h3v1h-3zM761 692h3v1h-3zM764 691h2v1h-2zM766 690h2v1h-2zM768 691h2v1h-2zM770 692h2v1h-2zM772 693h1v1h-1zM773 694h2v1h-2zM775 695h1v1h-1zM776 696h1v1h-1zM777 697h1v1h-1zM778 698h1v1h-1zM779 699h1v1h-1zM780 700h1v1h-1zM781 701h1v1h-1zM782 702h1v1h-1zM783 703h5v1h-5zM788 702h8v1h-8zM796 703h8v1h-8zM804 702h4v1h-4zM807 701h1v1h-1zM808 699v2h1v-2zM809 697v2h1v-2zM810 695v2h1v-2zM811 693v2h1v-2zM812 691v2h1v-2zM813 689v2h1v-2zM814 687v2h1v-2zM815 686h3v1h-3zM818 685h4v1h-4zM822 684h2v1h-2zM824 683h1v1h-1zM825 682h1v1h-1zM826 681h1v1h-1zM827 679v2h1v-2zM828 678h1v1h-1zM829 677h1v1h-1zM830 676h1v1h-1zM831 675h5v1h-5zM836 676h4v1h-4zM840 677v2h1v-2zM841 679h1v1h-1zM842 680v2h1v-2zM843 682h1v1h-1zM844 683v2h1v-2zM845 685h1v1h-1zM846 686v2h1v-2zM847 688h2v1h-2zM849 689h3v1h-3zM852 690h2v1h-2zM854 691h4v1h-4zM858 690h4v1h-4zM862 689h10v1h-10zM872 690h1v1h-1zM873 691h1v1h-1zM874 692h2v1h-2zM876 693h1v1h-1zM877 694h1v1h-1zM878 695h1v1h-1zM879 696h5v1h-5zM884 697h5v1h-5zM889 696h3v1h-3zM892 695h2v1h-2zM894 694h6v1h-6zM900 693h4v1h-4zM904 694h1v1h-1zM905 695v2h1v-2zM906 697h1v1h-1zM907 698h1v1h-1zM908 699h1v1h-1zM909 700v2h1v-2zM910 702h1v1h-1zM911 703h5v1h-5zM916 704h5v1h-5zM921 703h3v1h-3zM924 702h2v1h-2zM926 701h3v1h-3zM929 700h3v1h-3zM932 699h2v1h-2zM934 698h10v1h-10zM944 697h1v1h-1zM945 696h1v1h-1zM946 695h1v1h-1zM947 693v2h1v-2zM948 692h1v1h-1zM949 691h1v1h-1zM950 690h1v1h-1zM951 689h1v1h-1zM952 690v2h1v-2zM953 692v2h1v-2zM954 694h1v1h-1zM955 695v2h1v-2zM956 697h1v1h-1zM957 698v2h1v-2zM958 700v2h1v-2zM959 702h2v1h-2zM961 701h2v1h-2zM963 700h2v1h-2zM965 699h2v1h-2zM967 698h3v1h-3zM970 697h4v1h-4zM974 696h2v1h-2zM976 694v2h1v-2zM977 693h1v1h-1zM978 691v2h1v-2zM979 690h1v1h-1zM980 688v2h1v-2zM981 687h1v1h-1zM982 685v2h1v-2zM983 684v2h1v-2zM984 686v2h1v-2zM985 688v2h1v-2zM986 690v3h1v-3zM987 693v2h1v-2zM988 695v3h1v-3zM989 698v2h1v-2zM990 700v2h1v-2zM991 702v2h1v-2zM992 703h1v1h-1zM993 704h2v1h-2zM995 705h2v1h-2zM997 706h2v1h-2zM999 707h3v1h-3zM1002 706h4v1h-4zM1006 705h6v1h-6zM1012 704h4v1h-4zM1016 702v2h1v-2zM1017 701h1v1h-1zM1018 699v2h1v-2zM1019 698h1v1h-1zM1020 696v2h1v-2zM1021 695h1v1h-1zM1022 693v2h1v-2zM1023 692h1v1h-1zM1024 691h2v1h-2zM1026 690h1v1h-1zM1027 689h1v1h-1zM1028 688h2v1h-2zM1030 687h1v1h-1zM1031 686h1v1h-1zM1032 685h2v1h-2zM1034 684h1v1h-1zM1035 683h1v1h-1zM1036 682h2v1h-2zM1038 681h1v1h-1zM1039 680h3v1h-3zM1042 679h4v1h-4zM1046 678h4v1h-4zM1050 677h4v1h-4zM1054 676h4v1h-4zM1058 677h4v1h-4zM1062 678h2v1h-2zM1063 677h1v1h-1zM1064 675v2h1v-2zM1065 673v2h1v-2zM1066 671v2h1v-2zM1067 669v2h1v-2zM1068 667v2h1v-2zM1069 665v2h1v-2zM1070 663v2h1v-2zM1071 661v2h1v-2zM1072 661h2v1h-2zM1074 662h4v1h-4zM1078 663h6v1h-6zM1084 662h4v1h-4zM1088 663h2v1h-2zM1090 664h2v1h-2zM1092 665h1v1h-1zM1093 666h2v1h-2zM1095 667h2v1h-2zM1097 666h3v1h-3zM1100 665h2v1h-2zM1102 664h4v1h-4zM1106 663h4v1h-4zM1110 662h2v1h-2zM1112 663v2h1v-2zM1113 665v2h1v-2zM1114 667v2h1v-2zM1115 669v2h1v-2zM1116 671v2h1v-2zM1117 673v2h1v-2zM1118 675v2h1v-2zM1119 677h5v1h-5zM1124 676h4v1h-4zM1128 674v2h1v-2zM1129 673h1v1h-1zM1130 672h1v1h-1zM1131 670v2h1v-2zM1132 669h1v1h-1zM1133 668h1v1h-1zM1134 666v2h1v-2zM1135 665h5v1h-5zM1140 666h8v1h-8zM1148 665h5v1h-5zM1153 664h3v1h-3zM1156 663h2v1h-2zM1158 662h4v1h-4zM1162 661h4v1h-4zM1166 660h2v1h-2zM1168 661h1v1h-1zM1169 662v2h1v-2zM1170 664h1v1h-1zM1171 665h1v1h-1zM1172 666h1v1h-1zM1173 667v2h1v-2zM1174 669h1v1h-1zM1175 670h1v1h-1zM1176 669h2v1h-2zM1178 668h1v1h-1zM1179 667h1v1h-1zM1180 666h2v1h-2zM1182 665h1v1h-1zM1183 664h3v1h-3zM1186 663h4v1h-4zM1190 662h4v1h-4zM1194 661h4v1h-4zM1198 660h6v1h-6zM1204 659h4v1h-4zM1208 660v2h1v-2zM1209 662v2h1v-2zM1210 664v2h1v-2zM1211 666h1v1h-1zM1212 667v2h1v-2zM1213 669v2h1v-2zM1214 671v2h1v-2zM1215 673h2v1h-2zM1217 672h3v1h-3zM1220 671h2v1h-2zM1222 670h12v1h-12zM1234 671h4v1h-4zM1238 672h3v1h-3zM1241 671h3v1h-3zM1244 670h2v1h-2zM1246 669h6v1h-6zM1252 668h4v1h-4zM1256 666v2h1v-2zM1257 665h1v1h-1zM1258 663v2h1v-2zM1259 662h1v1h-1zM1260 660v2h1v-2zM1261 659h1v1h-1zM1262 657v2h1v-2zM1263 656h5v1h-5zM1268 655h6v1h-6zM1274 654h4v1h-4zM1278 653h2v1h-2zM1280 654h1v1h-1zM1281 655h1v1h-1zM1282 656h2v1h-2zM1284 657h1v1h-1zM1285 658h1v1h-1zM1286 659h1v1h-1zM1287 660h1v1h-1zM1288 661h1v1h-1zM1289 662h1v1h-1zM1290 663h1v1h-1zM1291 664h1v1h-1zM1292 665h1v1h-1zM1293 666h1v1h-1zM1294 667h1v1h-1zM1295 668h1v1h-1zM1296 667h2v1h-2zM1298 666h2v1h-2zM1300 665h1v1h-1zM1301 664h2v1h-2zM1303 663h5v1h-5zM1308 662h8v1h-8zM1316 661h4v1h-4zM1320 660h1v1h-1zM1321 659h1v1h-1zM1322 658h1v1h-1zM1323 657h1v1h-1zM1324 656h1v1h-1zM1325 655h1v1h-1zM1326 654h1v1h-1zM1327 653h3v1h-3zM1330 652h4v1h-4zM1334 651h2v1h-2zM1336 652v2h1v-2zM1337 654v2h1v-2zM1338 656h1v1h-1zM1339 657v2h1v-2zM1340 659h1v1h-1zM1341 660v2h1v-2zM1342 662v2h1v-2zM1343 664h3v1h-3zM1346 663h4v1h-4zM1350 662h2v1h-2z" fill="#1e90ff"/>
<rect x="1586" y="611" width="1" height="1" fill="#000"/>
<rect x="1586" y="640" width="2" height="1" fill="#000"/>
<rect x="1586" y="684" width="2" height="1" fill="#000"/>
<rect x="1586" y="736" width="2" height="1" fill="#000"/>
<rect x="63" y="760" width="1" height="3" fill="#000"/>
<rect x="127" y="760" width="1" height="3" fill="#000"/>
<rect x="191" y="760" width="1" height="3" fill="#000"/>
<rect x="255" y="760" width="1" height="3" fill="#000"/>
<rect x="319" y="760" width="1" height="3" fill="#000"/>
<rect x="383" y="760" width="1" height="3" fill="#000"/>
<rect x="447" y="760" width="1" height="3" fill="#000"/>
<rect x="511" y="760" width="1" height="3" fill="#000"/>
<rect x="575" y="760" width="1" height="3" fill="#000"/>
<rect x="639" y="760" width="1" height="3" fill="#000"/>
<rect x="703" y="760" width="1" height="3" fill="#000"/>
<rect x="767" y="760" width="1" height="3" fill="#000"/>
<rect x="831" y="760" width="1" height="3" fill="#000"/>
<rect x="895" y="760" width="1" height="3" fill="#000"/>
<rect x="959" y="760" width="1" height="3" fill="#000"/>
<rect x="1023" y="760" width="1" height="3" fill="#000"/>
<rect x="1087" y="760" width="1" height="3" fill="#000"/>
<rect x="1151" y="760" width="1" height="3" fill="#000"/>
<rect x="1215" y="760" width="1" height="3" fill="#000"/>
<rect x="1279" y="760" width="1" height="3" fill="#000"/>
<rect x="1343" y="760" width="1" height="3" fill="#000"/>
<rect x="0" y="780" width="1628" height="1" fill="#e3e3e3"/>
<rect x="0" y="782" width="889" height="1" fill="#000"/>
<rect x="963" y="782" width="665" height="1" fill="#000"/>
<rect x="888" y="782" width="1" height="3" fill="#000"/>
<rect x="963" y="782" width="1" height="3" fill="#000"/>
<rect x="0" y="784" width="887" height="1" fill="#f0f0f0"/>
<rect x="965" y="784" width="663" height="1" fill="#f0f0f0"/>
<path d="M2.300 45.600l3.500-4.600 3.500 4.600z" fill="#000" shape-rendering="geometricPrecision"/>
<g fill="#00ff00" shape-rendering="geometricPrecision"><text x="1037.05 1059.70 1082.80 1105.75 1128.85" y="122" font-size="20.3" font-weight="bold" fill="#00ff00" style="font-family:'Liberation Serif','Noto Serif CJK SC',serif">多空转折点</text></g>
</svg>
<div class="t" style="left:721px;top:20.500px;font-size:7.500px;line-height:8px;font-weight:bold;color:#404040">E</div>
<div class="t" style="left:749.500px;top:20.500px;font-size:7.500px;line-height:8px;font-weight:bold;color:#404040">F</div>
<div class="t" style="left:770.600px;top:11.900px;font-size:12.300px;line-height:13px;color:#4a4a4a;-webkit-text-stroke:.3px #4a4a4a">A</div>
<div class="t" style="left:799.200px;top:13px;font-size:11.500px;line-height:12px;font-weight:bold;color:#505050">T</div>
<div class="t tf" style="left:858px;top:14px;">M1</div>
<div class="t tf" style="left:886px;top:14px;">M5</div>
<div class="t tf" style="left:914.5px;top:14px;">M15</div>
<div class="t tf" style="left:942.5px;top:14px;">M30</div>
<div class="t tf" style="left:970.4px;top:14px;">H1</div>
<div class="t tf" style="left:998px;top:14px;">H4</div>
<div class="t tf" style="left:1026.3px;top:14px;">D1</div>
<div class="t tf" style="left:1055px;top:14px;">W1</div>
<div class="t tf" style="left:1082px;top:14px;">MN</div>
<div class="t" style="left:1591px;top:72.65px;font-size:10px;line-height:10px;letter-spacing:-0.38px;color:#000;font-weight:normal;">28074.0</div>
<div style="position:absolute;left:1588px;top:144px;width:40px;height:6px;overflow:hidden"><div class="t" style="left:3px;top:-5.345px;font-size:10px;line-height:10px;letter-spacing:-0.38px;color:#000">27394.0</div></div>
<div class="t" style="left:1591px;top:171.65px;font-size:10px;line-height:10px;letter-spacing:-0.38px;color:#000;font-weight:normal;">27054.0</div>
<div class="t" style="left:1591px;top:204.65px;font-size:10px;line-height:10px;letter-spacing:-0.38px;color:#000;font-weight:normal;">26714.0</div>
<div class="t" style="left:1591px;top:237.65px;font-size:10px;line-height:10px;letter-spacing:-0.38px;color:#000;font-weight:normal;">26374.0</div>
<div class="t" style="left:1591px;top:270.65px;font-size:10px;line-height:10px;letter-spacing:-0.38px;color:#000;font-weight:normal;">26034.0</div>
<div class="t" style="left:1591px;top:303.65px;font-size:10px;line-height:10px;letter-spacing:-0.38px;color:#000;font-weight:normal;">25694.0</div>
<div class="t" style="left:1591px;top:336.65px;font-size:10px;line-height:10px;letter-spacing:-0.38px;color:#000;font-weight:normal;">25354.0</div>
<div class="t" style="left:1591px;top:369.65px;font-size:10px;line-height:10px;letter-spacing:-0.38px;color:#000;font-weight:normal;">25014.0</div>
<div class="t" style="left:1591px;top:402.65px;font-size:10px;line-height:10px;letter-spacing:-0.38px;color:#000;font-weight:normal;">24674.0</div>
<div class="t" style="left:1591px;top:435.65px;font-size:10px;line-height:10px;letter-spacing:-0.38px;color:#000;font-weight:normal;">24334.0</div>
<div class="t" style="left:1591px;top:93.65px;font-size:10px;line-height:10px;letter-spacing:-0.38px;color:#fff;font-weight:normal;">27858.0</div>
<div class="t" style="left:1591px;top:38.65px;font-size:10px;line-height:10px;letter-spacing:-0.38px;color:#fff;font-weight:normal;">28411.4</div>
<div class="t" style="left:1591px;top:58.65px;font-size:10px;line-height:10px;letter-spacing:-0.38px;color:#fff;font-weight:normal;">28201.3</div>
<div class="t" style="left:1591px;top:106.65px;font-size:10px;line-height:10px;letter-spacing:-0.38px;color:#fff;font-weight:normal;">27709.0</div>
<div class="t" style="left:1591px;top:133.65px;font-size:10px;line-height:10px;letter-spacing:-0.38px;color:#fff;font-weight:normal;">27437.9</div>
<div class="t" style="left:1591px;top:157.65px;font-size:10px;line-height:10px;letter-spacing:-0.38px;color:#fff;font-weight:normal;">27186.2</div>
<div class="t" style="left:1589px;top:447.65px;font-size:10px;line-height:10px;letter-spacing:-0.38px;color:#000;font-weight:normal;">380.67</div>
<div class="t" style="left:1591px;top:509.65px;font-size:10px;line-height:10px;letter-spacing:-0.38px;color:#000;font-weight:normal;">0.00</div>
<div class="t" style="left:1589px;top:595.65px;font-size:10px;line-height:10px;letter-spacing:-0.38px;color:#000;font-weight:normal;">-518.15</div>
<div class="t" style="left:1589px;top:611.65px;font-size:10px;line-height:10px;letter-spacing:-0.38px;color:#000;font-weight:normal;">100</div>
<div class="t" style="left:1589px;top:635.65px;font-size:10px;line-height:10px;letter-spacing:-0.38px;color:#000;font-weight:normal;">80</div>
<div class="t" style="left:1589px;top:679.65px;font-size:10px;line-height:10px;letter-spacing:-0.38px;color:#000;font-weight:normal;">50</div>
<div class="t" style="left:1589px;top:731.65px;font-size:10px;line-height:10px;letter-spacing:-0.38px;color:#000;font-weight:normal;">15</div>
<div class="t" style="left:1589px;top:747.65px;font-size:10px;line-height:10px;letter-spacing:-0.38px;color:#000;font-weight:normal;">0</div>
<div class="t" style="left:-3.7px;top:763.65px;font-size:10px;line-height:10px;letter-spacing:-0.27px;color:#000;font-weight:normal;">28 Sep 2018</div>
<div class="t" style="left:62px;top:763.65px;font-size:10px;line-height:10px;letter-spacing:-0.27px;color:#000;font-weight:normal;">5 Oct 01:15</div>
<div class="t" style="left:126px;top:763.65px;font-size:10px;line-height:10px;letter-spacing:-0.27px;color:#000;font-weight:normal;">11 Oct 01:15</div>
<div class="t" style="left:190px;top:763.65px;font-size:10px;line-height:10px;letter-spacing:-0.27px;color:#000;font-weight:normal;">18 Oct 01:15</div>
<div class="t" style="left:254px;top:763.65px;font-size:10px;line-height:10px;letter-spacing:-0.27px;color:#000;font-weight:normal;">24 Oct 01:15</div>
<div class="t" style="left:318px;top:763.65px;font-size:10px;line-height:10px;letter-spacing:-0.27px;color:#000;font-weight:normal;">30 Oct 01:15</div>
<div class="t" style="left:382px;top:763.65px;font-size:10px;line-height:10px;letter-spacing:-0.27px;color:#000;font-weight:normal;">5 Nov 01:15</div>
<div class="t" style="left:446px;top:763.65px;font-size:10px;line-height:10px;letter-spacing:-0.27px;color:#000;font-weight:normal;">9 Nov 01:15</div>
<div class="t" style="left:510px;top:763.65px;font-size:10px;line-height:10px;letter-spacing:-0.27px;color:#000;font-weight:normal;">15 Nov 01:15</div>
<div class="t" style="left:574px;top:763.65px;font-size:10px;line-height:10px;letter-spacing:-0.27px;color:#000;font-weight:normal;">21 Nov 01:15</div>
<div class="t" style="left:638px;top:763.65px;font-size:10px;line-height:10px;letter-spacing:-0.27px;color:#000;font-weight:normal;">27 Nov 01:15</div>
<div class="t" style="left:702px;top:763.65px;font-size:10px;line-height:10px;letter-spacing:-0.27px;color:#000;font-weight:normal;">3 Dec 01:15</div>
<div class="t" style="left:766px;top:763.65px;font-size:10px;line-height:10px;letter-spacing:-0.27px;color:#000;font-weight:normal;">7 Dec 01:15</div>
<div class="t" style="left:830px;top:763.65px;font-size:10px;line-height:10px;letter-spacing:-0.27px;color:#000;font-weight:normal;">13 Dec 01:15</div>
<div class="t" style="left:894px;top:763.65px;font-size:10px;line-height:10px;letter-spacing:-0.27px;color:#000;font-weight:normal;">19 Dec 01:15</div>
<div class="t" style="left:958px;top:763.65px;font-size:10px;line-height:10px;letter-spacing:-0.27px;color:#000;font-weight:normal;">27 Dec 05:00</div>
<div class="t" style="left:1022px;top:763.65px;font-size:10px;line-height:10px;letter-spacing:-0.27px;color:#000;font-weight:normal;">4 Jan 01:15</div>
<div class="t" style="left:1086px;top:763.65px;font-size:10px;line-height:10px;letter-spacing:-0.27px;color:#000;font-weight:normal;">10 Jan 01:15</div>
<div class="t" style="left:1150px;top:763.65px;font-size:10px;line-height:10px;letter-spacing:-0.27px;color:#000;font-weight:normal;">16 Jan 01:15</div>
<div class="t" style="left:1214px;top:763.65px;font-size:10px;line-height:10px;letter-spacing:-0.27px;color:#000;font-weight:normal;">22 Jan 01:15</div>
<div class="t" style="left:1278px;top:763.65px;font-size:10px;line-height:10px;letter-spacing:-0.27px;color:#000;font-weight:normal;">28 Jan 01:15</div>
<div class="t" style="left:1342px;top:763.65px;font-size:10px;line-height:10px;letter-spacing:-0.27px;color:#000;font-weight:normal;">1 Feb 01:15</div>
<div class="t" style="left:14px;top:37.65px;font-size:10px;line-height:10px;letter-spacing:-0.36px;color:#000;font-weight:normal;">HK50-,H4&nbsp; 27803.0 27887.5 27739.0 27858.0</div>
<div class="t" style="left:3px;top:449.65px;font-size:10px;line-height:10px;letter-spacing:-0.32px;color:#000;font-weight:normal;">MACD(12,26,9) 327.77 315.58</div>
<div class="t" style="left:3px;top:613.65px;font-size:10px;line-height:10px;letter-spacing:-0.36px;color:#000;font-weight:normal;">RSI(14) 65.1038</div>
<div class="t" style="left:1150.5px;top:104.72px;font-size:21.4px;line-height:21.4px;letter-spacing:0px;color:#00ff00;font-weight:bold;">27709</div>

<div id="tp">
<div style="left:0;top:53px;width:223px;height:67px;background:#fff"></div>
<div class="tab" style="left:2px"></div><div class="tab" style="left:169px"></div>
<div class="ul" style="left:6px"></div><div class="ul" style="left:173px"></div>
<div class="pr" style="left:2px;width:109px"></div><div class="pr" style="left:113px;width:108px"></div>
<div class="inp"><div class="sb" style="left:0"></div><div class="sb" style="right:0;border-left:1px solid #b4b4bc;border-right:0"></div></div>
<svg style="position:absolute;left:0;top:0" width="230" height="125"><path d="M63.500 63.500h6l-3 3.300zM152.500 66.500h6l-3-3.300z" fill="#000"/></svg>
<div class="t" style="left:13.700px;top:60.300px;font-size:12px;line-height:13px;color:#fff;letter-spacing:-.9px">SELL</div>
<div class="t" style="left:182px;top:60.300px;font-size:12px;line-height:13px;color:#fff;letter-spacing:-.2px">BUY</div>
<div class="t" style="left:118.300px;top:58.600px;font-size:12px;line-height:13px;color:#000;letter-spacing:0">0.10</div>
<div class="t" style="left:17.600px;top:99.400px;font-size:12px;line-height:13px;color:#fff;font-weight:bold;letter-spacing:.7px">27856</div>
<div class="t" style="left:127.300px;top:99.400px;font-size:12px;line-height:13px;color:#fff;font-weight:bold;letter-spacing:.7px">27870</div>
<div class="big" style="left:63.200px">5</div><div class="big" style="left:174.700px">5</div>
<div class="dot" style="left:57px"></div><div class="dot" style="left:168px"></div>
</div>

</body></html>
